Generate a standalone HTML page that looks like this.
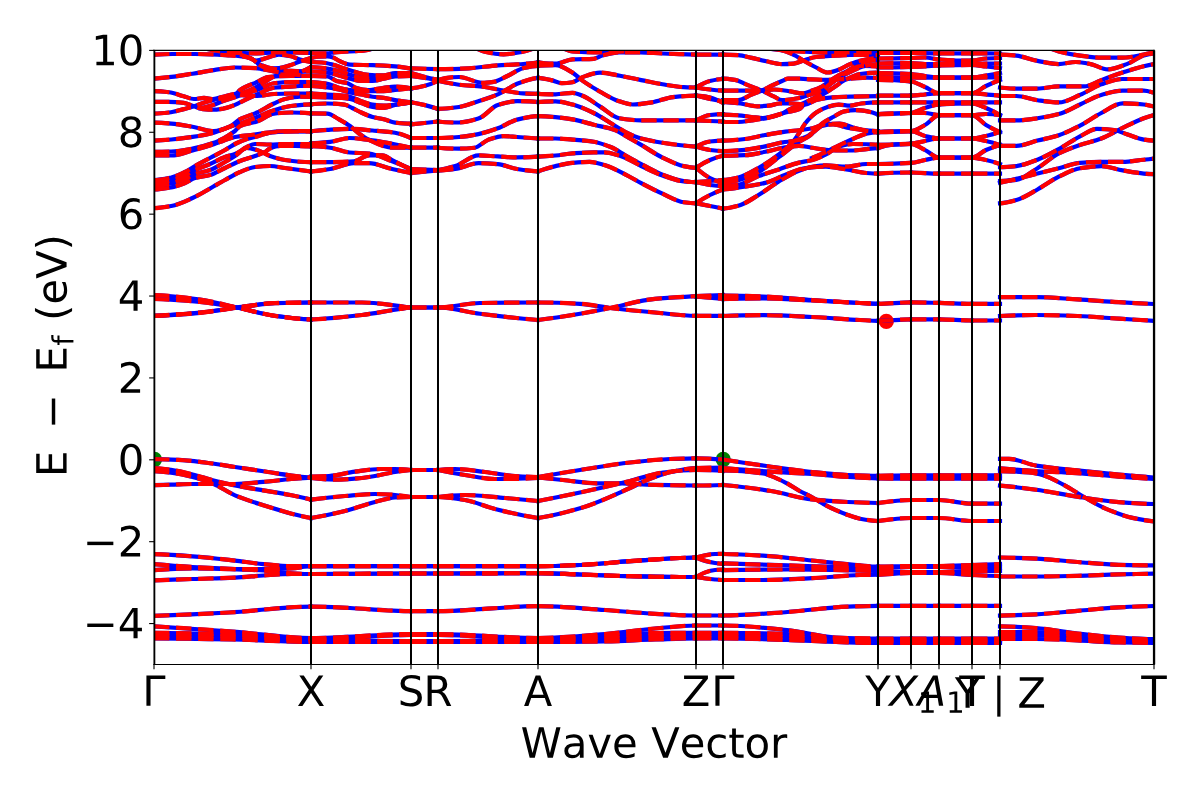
<!DOCTYPE html><html><head><meta charset="utf-8"><title>Band structure</title><style>html,body{margin:0;padding:0;background:#fff;width:1200px;height:800px;overflow:hidden;font-family:"Liberation Sans",sans-serif}</style></head><body><svg width="1200" height="800" viewBox="0 0 864 576" style="display:block">
<defs>
</defs>
<g id="figure_1">
<g id="patch_1">
<path d="M 0 576 
L 864 576 
L 864 0 
L 0 0 
z
" style="fill: #ffffff"/>
</g>
<g id="axes_1">
<g id="patch_2">
<path d="M 110.88 478.44 
L 830.88 478.44 
L 830.88 36.288 
L 110.88 36.288 
z
" style="fill: #ffffff"/>
</g>
<g id="matplotlib.axis_1">
<g id="xtick_1">
<g id="line2d_1">
<defs>
<path id="m612055d53e" d="M 0 0 
L 0 3.5 
" style="stroke: #000000; stroke-width: 0.8"/>
</defs>
<g>
<use href="#m612055d53e" x="110.88" y="478.44" style="stroke: #000000; stroke-width: 0.8"/>
</g>
</g>
<g id="text_1">
<!-- $\Gamma$ -->
<g transform="translate(102.48 508.235312) scale(0.3 -0.3)">
<defs>
<path id="DejaVuSans-393" d="M 628 0 
L 628 4666 
L 3531 4666 
L 3531 4134 
L 1259 4134 
L 1259 0 
L 628 0 
z
" transform="scale(0.015625)"/>
</defs>
<use href="#DejaVuSans-393" transform="translate(0 0.09375)"/>
</g>
</g>
</g>
<g id="xtick_2">
<g id="line2d_2">
<g>
<use href="#m612055d53e" x="223.92" y="478.44" style="stroke: #000000; stroke-width: 0.8"/>
</g>
</g>
<g id="text_2">
<!-- X -->
<g transform="translate(213.645 508.235312) scale(0.3 -0.3)">
<defs>
<path id="DejaVuSans-58" d="M 403 4666 
L 1081 4666 
L 2241 2931 
L 3406 4666 
L 4084 4666 
L 2584 2425 
L 4184 0 
L 3506 0 
L 2194 1984 
L 872 0 
L 191 0 
L 1856 2491 
L 403 4666 
z
" transform="scale(0.015625)"/>
</defs>
<use href="#DejaVuSans-58"/>
</g>
</g>
</g>
<g id="xtick_3">
<g id="line2d_3">
<g>
<use href="#m612055d53e" x="295.92" y="478.44" style="stroke: #000000; stroke-width: 0.8"/>
</g>
</g>
<g id="text_3">
<!-- S -->
<g transform="translate(286.397344 508.235312) scale(0.3 -0.3)">
<defs>
<path id="DejaVuSans-53" d="M 3425 4513 
L 3425 3897 
Q 3066 4069 2747 4153 
Q 2428 4238 2131 4238 
Q 1616 4238 1336 4038 
Q 1056 3838 1056 3469 
Q 1056 3159 1242 3001 
Q 1428 2844 1947 2747 
L 2328 2669 
Q 3034 2534 3370 2195 
Q 3706 1856 3706 1288 
Q 3706 609 3251 259 
Q 2797 -91 1919 -91 
Q 1588 -91 1214 -16 
Q 841 59 441 206 
L 441 856 
Q 825 641 1194 531 
Q 1563 422 1919 422 
Q 2459 422 2753 634 
Q 3047 847 3047 1241 
Q 3047 1584 2836 1778 
Q 2625 1972 2144 2069 
L 1759 2144 
Q 1053 2284 737 2584 
Q 422 2884 422 3419 
Q 422 4038 858 4394 
Q 1294 4750 2059 4750 
Q 2388 4750 2728 4690 
Q 3069 4631 3425 4513 
z
" transform="scale(0.015625)"/>
</defs>
<use href="#DejaVuSans-53"/>
</g>
</g>
</g>
<g id="xtick_4">
<g id="line2d_4">
<g>
<use href="#m612055d53e" x="315.36" y="478.44" style="stroke: #000000; stroke-width: 0.8"/>
</g>
</g>
<g id="text_4">
<!-- R -->
<g transform="translate(304.937344 508.235312) scale(0.3 -0.3)">
<defs>
<path id="DejaVuSans-52" d="M 2841 2188 
Q 3044 2119 3236 1894 
Q 3428 1669 3622 1275 
L 4263 0 
L 3584 0 
L 2988 1197 
Q 2756 1666 2539 1819 
Q 2322 1972 1947 1972 
L 1259 1972 
L 1259 0 
L 628 0 
L 628 4666 
L 2053 4666 
Q 2853 4666 3247 4331 
Q 3641 3997 3641 3322 
Q 3641 2881 3436 2590 
Q 3231 2300 2841 2188 
z
M 1259 4147 
L 1259 2491 
L 2053 2491 
Q 2509 2491 2742 2702 
Q 2975 2913 2975 3322 
Q 2975 3731 2742 3939 
Q 2509 4147 2053 4147 
L 1259 4147 
z
" transform="scale(0.015625)"/>
</defs>
<use href="#DejaVuSans-52"/>
</g>
</g>
</g>
<g id="xtick_5">
<g id="line2d_5">
<g>
<use href="#m612055d53e" x="387.36" y="478.44" style="stroke: #000000; stroke-width: 0.8"/>
</g>
</g>
<g id="text_5">
<!-- A -->
<g transform="translate(377.099063 508.235312) scale(0.3 -0.3)">
<defs>
<path id="DejaVuSans-41" d="M 2188 4044 
L 1331 1722 
L 3047 1722 
L 2188 4044 
z
M 1831 4666 
L 2547 4666 
L 4325 0 
L 3669 0 
L 3244 1197 
L 1141 1197 
L 716 0 
L 50 0 
L 1831 4666 
z
" transform="scale(0.015625)"/>
</defs>
<use href="#DejaVuSans-41"/>
</g>
</g>
</g>
<g id="xtick_6">
<g id="line2d_6">
<g>
<use href="#m612055d53e" x="501.12" y="478.44" style="stroke: #000000; stroke-width: 0.8"/>
</g>
</g>
<g id="text_6">
<!-- Z -->
<g transform="translate(490.845 508.235312) scale(0.3 -0.3)">
<defs>
<path id="DejaVuSans-5a" d="M 359 4666 
L 4025 4666 
L 4025 4184 
L 1075 531 
L 4097 531 
L 4097 0 
L 288 0 
L 288 481 
L 3238 4134 
L 359 4134 
L 359 4666 
z
" transform="scale(0.015625)"/>
</defs>
<use href="#DejaVuSans-5a"/>
</g>
</g>
</g>
<g id="xtick_7">
<g id="line2d_7">
<g>
<use href="#m612055d53e" x="520.56" y="478.44" style="stroke: #000000; stroke-width: 0.8"/>
</g>
</g>
<g id="text_7">
<!-- $\Gamma$ -->
<g transform="translate(512.16 508.235312) scale(0.3 -0.3)">
<use href="#DejaVuSans-393" transform="translate(0 0.09375)"/>
</g>
</g>
</g>
<g id="xtick_8">
<g id="line2d_8">
<g>
<use href="#m612055d53e" x="632.16" y="478.44" style="stroke: #000000; stroke-width: 0.8"/>
</g>
</g>
<g id="text_8">
<!-- Y -->
<g transform="translate(622.998281 508.235312) scale(0.3 -0.3)">
<defs>
<path id="DejaVuSans-59" d="M -13 4666 
L 666 4666 
L 1959 2747 
L 3244 4666 
L 3922 4666 
L 2272 2222 
L 2272 0 
L 1638 0 
L 1638 2222 
L -13 4666 
z
" transform="scale(0.015625)"/>
</defs>
<use href="#DejaVuSans-59"/>
</g>
</g>
</g>
<g id="xtick_9">
<g id="line2d_9">
<g>
<use href="#m612055d53e" x="655.92" y="478.44" style="stroke: #000000; stroke-width: 0.8"/>
</g>
</g>
<g id="text_9" transform="translate(1.8 0)">
<!-- $X_1$ -->
<g transform="translate(638.52 508.235312) scale(0.3 -0.3)">
<defs>
<path id="DejaVuSans-Oblique-58" d="M 878 4666 
L 1516 4666 
L 2316 2981 
L 3763 4666 
L 4500 4666 
L 2578 2438 
L 3738 0 
L 3103 0 
L 2163 1966 
L 459 0 
L -275 0 
L 1906 2509 
L 878 4666 
z
" transform="scale(0.015625)"/>
<path id="DejaVuSans-31" d="M 794 531 
L 1825 531 
L 1825 4091 
L 703 3866 
L 703 4441 
L 1819 4666 
L 2450 4666 
L 2450 531 
L 3481 531 
L 3481 0 
L 794 0 
L 794 531 
z
" transform="scale(0.015625)"/>
</defs>
<use href="#DejaVuSans-Oblique-58" transform="translate(0 0.09375)"/>
<use href="#DejaVuSans-31" transform="translate(68.505859 -16.3125) scale(0.7)"/>
</g>
</g>
</g>
<g id="xtick_10">
<g id="line2d_10">
<g>
<use href="#m612055d53e" x="676.08" y="478.44" style="stroke: #000000; stroke-width: 0.8"/>
</g>
</g>
<g id="text_10" transform="translate(2.0 0)">
<!-- $A_1$ -->
<g transform="translate(658.68 508.235312) scale(0.3 -0.3)">
<defs>
<path id="DejaVuSans-Oblique-41" d="M 2356 4666 
L 3072 4666 
L 3938 0 
L 3278 0 
L 3084 1197 
L 984 1197 
L 325 0 
L -341 0 
L 2356 4666 
z
M 2584 4044 
L 1275 1722 
L 2988 1722 
L 2584 4044 
z
" transform="scale(0.015625)"/>
</defs>
<use href="#DejaVuSans-Oblique-41" transform="translate(0 0.09375)"/>
<use href="#DejaVuSans-31" transform="translate(68.408203 -16.3125) scale(0.7)"/>
</g>
</g>
</g>
<g id="xtick_11">
<g id="line2d_11">
<g>
<use href="#m612055d53e" x="699.84" y="478.44" style="stroke: #000000; stroke-width: 0.8"/>
</g>
</g>
<g id="text_11">
<!-- T -->
<g transform="translate(690.678281 508.235312) scale(0.3 -0.3)">
<defs>
<path id="DejaVuSans-54" d="M -19 4666 
L 3928 4666 
L 3928 4134 
L 2272 4134 
L 2272 0 
L 1638 0 
L 1638 4134 
L -19 4134 
L -19 4666 
z
" transform="scale(0.015625)"/>
</defs>
<use href="#DejaVuSans-54"/>
</g>
</g>
</g>
<g id="xtick_12">
<g id="line2d_12">
<g>
<use href="#m612055d53e" x="720" y="478.44" style="stroke: #000000; stroke-width: 0.8"/>
</g>
</g>
<g id="text_12" transform="translate(0.36 1.0)">
<!-- Y$\mid$Z -->
<g transform="translate(687.15 508.84) scale(0.3 -0.3)">
<defs>
<path id="DejaVuSans-2223" d="M 1350 4934 
L 1850 4934 
L 1850 -1369 
L 1350 -1369 
L 1350 4934 
z
" transform="scale(0.015625)"/>
</defs>
<use href="#DejaVuSans-59" transform="translate(0 0.90625)"/>
<use href="#DejaVuSans-2223" transform="translate(80.566406 0.90625)"/>
<use href="#DejaVuSans-5a" transform="translate(150.048828 0.90625)"/>
</g>
</g>
</g>
<g id="xtick_13">
<g id="line2d_13">
<g>
<use href="#m612055d53e" x="830.88" y="478.44" style="stroke: #000000; stroke-width: 0.8"/>
</g>
</g>
<g id="text_13">
<!-- T -->
<g transform="translate(821.718281 508.235312) scale(0.3 -0.3)">
<use href="#DejaVuSans-54"/>
</g>
</g>
</g>
<g id="text_14" transform="translate(0 3.3)">
<!-- $\mathrm{Wave\ Vector}$ -->
<g transform="translate(374.88 542.235312) scale(0.3 -0.3)">
<defs>
<path id="DejaVuSans-57" d="M 213 4666 
L 850 4666 
L 1831 722 
L 2809 4666 
L 3519 4666 
L 4500 722 
L 5478 4666 
L 6119 4666 
L 4947 0 
L 4153 0 
L 3169 4050 
L 2175 0 
L 1381 0 
L 213 4666 
z
" transform="scale(0.015625)"/>
<path id="DejaVuSans-61" d="M 2194 1759 
Q 1497 1759 1228 1600 
Q 959 1441 959 1056 
Q 959 750 1161 570 
Q 1363 391 1709 391 
Q 2188 391 2477 730 
Q 2766 1069 2766 1631 
L 2766 1759 
L 2194 1759 
z
M 3341 1997 
L 3341 0 
L 2766 0 
L 2766 531 
Q 2569 213 2275 61 
Q 1981 -91 1556 -91 
Q 1019 -91 701 211 
Q 384 513 384 1019 
Q 384 1609 779 1909 
Q 1175 2209 1959 2209 
L 2766 2209 
L 2766 2266 
Q 2766 2663 2505 2880 
Q 2244 3097 1772 3097 
Q 1472 3097 1187 3025 
Q 903 2953 641 2809 
L 641 3341 
Q 956 3463 1253 3523 
Q 1550 3584 1831 3584 
Q 2591 3584 2966 3190 
Q 3341 2797 3341 1997 
z
" transform="scale(0.015625)"/>
<path id="DejaVuSans-76" d="M 191 3500 
L 800 3500 
L 1894 563 
L 2988 3500 
L 3597 3500 
L 2284 0 
L 1503 0 
L 191 3500 
z
" transform="scale(0.015625)"/>
<path id="DejaVuSans-65" d="M 3597 1894 
L 3597 1613 
L 953 1613 
Q 991 1019 1311 708 
Q 1631 397 2203 397 
Q 2534 397 2845 478 
Q 3156 559 3463 722 
L 3463 178 
Q 3153 47 2828 -22 
Q 2503 -91 2169 -91 
Q 1331 -91 842 396 
Q 353 884 353 1716 
Q 353 2575 817 3079 
Q 1281 3584 2069 3584 
Q 2775 3584 3186 3129 
Q 3597 2675 3597 1894 
z
M 3022 2063 
Q 3016 2534 2758 2815 
Q 2500 3097 2075 3097 
Q 1594 3097 1305 2825 
Q 1016 2553 972 2059 
L 3022 2063 
z
" transform="scale(0.015625)"/>
<path id="DejaVuSans-56" d="M 1831 0 
L 50 4666 
L 709 4666 
L 2188 738 
L 3669 4666 
L 4325 4666 
L 2547 0 
L 1831 0 
z
" transform="scale(0.015625)"/>
<path id="DejaVuSans-63" d="M 3122 3366 
L 3122 2828 
Q 2878 2963 2633 3030 
Q 2388 3097 2138 3097 
Q 1578 3097 1268 2742 
Q 959 2388 959 1747 
Q 959 1106 1268 751 
Q 1578 397 2138 397 
Q 2388 397 2633 464 
Q 2878 531 3122 666 
L 3122 134 
Q 2881 22 2623 -34 
Q 2366 -91 2075 -91 
Q 1284 -91 818 406 
Q 353 903 353 1747 
Q 353 2603 823 3093 
Q 1294 3584 2113 3584 
Q 2378 3584 2631 3529 
Q 2884 3475 3122 3366 
z
" transform="scale(0.015625)"/>
<path id="DejaVuSans-74" d="M 1172 4494 
L 1172 3500 
L 2356 3500 
L 2356 3053 
L 1172 3053 
L 1172 1153 
Q 1172 725 1289 603 
Q 1406 481 1766 481 
L 2356 481 
L 2356 0 
L 1766 0 
Q 1100 0 847 248 
Q 594 497 594 1153 
L 594 3053 
L 172 3053 
L 172 3500 
L 594 3500 
L 594 4494 
L 1172 4494 
z
" transform="scale(0.015625)"/>
<path id="DejaVuSans-6f" d="M 1959 3097 
Q 1497 3097 1228 2736 
Q 959 2375 959 1747 
Q 959 1119 1226 758 
Q 1494 397 1959 397 
Q 2419 397 2687 759 
Q 2956 1122 2956 1747 
Q 2956 2369 2687 2733 
Q 2419 3097 1959 3097 
z
M 1959 3584 
Q 2709 3584 3137 3096 
Q 3566 2609 3566 1747 
Q 3566 888 3137 398 
Q 2709 -91 1959 -91 
Q 1206 -91 779 398 
Q 353 888 353 1747 
Q 353 2609 779 3096 
Q 1206 3584 1959 3584 
z
" transform="scale(0.015625)"/>
<path id="DejaVuSans-72" d="M 2631 2963 
Q 2534 3019 2420 3045 
Q 2306 3072 2169 3072 
Q 1681 3072 1420 2755 
Q 1159 2438 1159 1844 
L 1159 0 
L 581 0 
L 581 3500 
L 1159 3500 
L 1159 2956 
Q 1341 3275 1631 3429 
Q 1922 3584 2338 3584 
Q 2397 3584 2469 3576 
Q 2541 3569 2628 3553 
L 2631 2963 
z
" transform="scale(0.015625)"/>
</defs>
<use href="#DejaVuSans-57" transform="translate(0 0.09375)"/>
<use href="#DejaVuSans-61" transform="translate(98.876953 0.09375)"/>
<use href="#DejaVuSans-76" transform="translate(160.15625 0.09375)"/>
<use href="#DejaVuSans-65" transform="translate(219.335938 0.09375)"/>
<use href="#DejaVuSans-56" transform="translate(313.329753 0.09375)"/>
<use href="#DejaVuSans-65" transform="translate(381.737957 0.09375)"/>
<use href="#DejaVuSans-63" transform="translate(443.261394 0.09375)"/>
<use href="#DejaVuSans-74" transform="translate(498.241863 0.09375)"/>
<use href="#DejaVuSans-6f" transform="translate(537.450847 0.09375)"/>
<use href="#DejaVuSans-72" transform="translate(598.632488 0.09375)"/>
</g>
</g>
</g>
<g id="matplotlib.axis_2">
<g id="ytick_1">
<g id="line2d_14">
<defs>
<path id="m268ad5225a" d="M 0 0 
L -3.5 0 
" style="stroke: #000000; stroke-width: 0.8"/>
</defs>
<g>
<use href="#m268ad5225a" x="110.88" y="448.9632" style="stroke: #000000; stroke-width: 0.8"/>
</g>
</g>
<g id="text_15" transform="translate(0 -0.75)">
<!-- −4 -->
<g transform="translate(59.653437 460.360856) scale(0.3 -0.3)">
<defs>
<path id="DejaVuSans-2212" d="M 678 2272 
L 4684 2272 
L 4684 1741 
L 678 1741 
L 678 2272 
z
" transform="scale(0.015625)"/>
<path id="DejaVuSans-34" d="M 2419 4116 
L 825 1625 
L 2419 1625 
L 2419 4116 
z
M 2253 4666 
L 3047 4666 
L 3047 1625 
L 3713 1625 
L 3713 1100 
L 3047 1100 
L 3047 0 
L 2419 0 
L 2419 1100 
L 313 1100 
L 313 1709 
L 2253 4666 
z
" transform="scale(0.015625)"/>
</defs>
<use href="#DejaVuSans-2212"/>
<use href="#DejaVuSans-34" transform="translate(83.789062 0)"/>
</g>
</g>
</g>
<g id="ytick_2">
<g id="line2d_15">
<g>
<use href="#m268ad5225a" x="110.88" y="390.0096" style="stroke: #000000; stroke-width: 0.8"/>
</g>
</g>
<g id="text_16" transform="translate(0 -0.75)">
<!-- −2 -->
<g transform="translate(59.653437 401.407256) scale(0.3 -0.3)">
<defs>
<path id="DejaVuSans-32" d="M 1228 531 
L 3431 531 
L 3431 0 
L 469 0 
L 469 531 
Q 828 903 1448 1529 
Q 2069 2156 2228 2338 
Q 2531 2678 2651 2914 
Q 2772 3150 2772 3378 
Q 2772 3750 2511 3984 
Q 2250 4219 1831 4219 
Q 1534 4219 1204 4116 
Q 875 4013 500 3803 
L 500 4441 
Q 881 4594 1212 4672 
Q 1544 4750 1819 4750 
Q 2544 4750 2975 4387 
Q 3406 4025 3406 3419 
Q 3406 3131 3298 2873 
Q 3191 2616 2906 2266 
Q 2828 2175 2409 1742 
Q 1991 1309 1228 531 
z
" transform="scale(0.015625)"/>
</defs>
<use href="#DejaVuSans-2212"/>
<use href="#DejaVuSans-32" transform="translate(83.789062 0)"/>
</g>
</g>
</g>
<g id="ytick_3">
<g id="line2d_16">
<g>
<use href="#m268ad5225a" x="110.88" y="331.056" style="stroke: #000000; stroke-width: 0.8"/>
</g>
</g>
<g id="text_17" transform="translate(0 -0.75)">
<!-- 0 -->
<g transform="translate(84.7925 342.453656) scale(0.3 -0.3)">
<defs>
<path id="DejaVuSans-30" d="M 2034 4250 
Q 1547 4250 1301 3770 
Q 1056 3291 1056 2328 
Q 1056 1369 1301 889 
Q 1547 409 2034 409 
Q 2525 409 2770 889 
Q 3016 1369 3016 2328 
Q 3016 3291 2770 3770 
Q 2525 4250 2034 4250 
z
M 2034 4750 
Q 2819 4750 3233 4129 
Q 3647 3509 3647 2328 
Q 3647 1150 3233 529 
Q 2819 -91 2034 -91 
Q 1250 -91 836 529 
Q 422 1150 422 2328 
Q 422 3509 836 4129 
Q 1250 4750 2034 4750 
z
" transform="scale(0.015625)"/>
</defs>
<use href="#DejaVuSans-30"/>
</g>
</g>
</g>
<g id="ytick_4">
<g id="line2d_17">
<g>
<use href="#m268ad5225a" x="110.88" y="272.1024" style="stroke: #000000; stroke-width: 0.8"/>
</g>
</g>
<g id="text_18" transform="translate(0 -0.75)">
<!-- 2 -->
<g transform="translate(84.7925 283.500056) scale(0.3 -0.3)">
<use href="#DejaVuSans-32"/>
</g>
</g>
</g>
<g id="ytick_5">
<g id="line2d_18">
<g>
<use href="#m268ad5225a" x="110.88" y="213.1488" style="stroke: #000000; stroke-width: 0.8"/>
</g>
</g>
<g id="text_19" transform="translate(0 -0.75)">
<!-- 4 -->
<g transform="translate(84.7925 224.546456) scale(0.3 -0.3)">
<use href="#DejaVuSans-34"/>
</g>
</g>
</g>
<g id="ytick_6">
<g id="line2d_19">
<g>
<use href="#m268ad5225a" x="110.88" y="154.1952" style="stroke: #000000; stroke-width: 0.8"/>
</g>
</g>
<g id="text_20" transform="translate(0 -0.75)">
<!-- 6 -->
<g transform="translate(84.7925 165.592856) scale(0.3 -0.3)">
<defs>
<path id="DejaVuSans-36" d="M 2113 2584 
Q 1688 2584 1439 2293 
Q 1191 2003 1191 1497 
Q 1191 994 1439 701 
Q 1688 409 2113 409 
Q 2538 409 2786 701 
Q 3034 994 3034 1497 
Q 3034 2003 2786 2293 
Q 2538 2584 2113 2584 
z
M 3366 4563 
L 3366 3988 
Q 3128 4100 2886 4159 
Q 2644 4219 2406 4219 
Q 1781 4219 1451 3797 
Q 1122 3375 1075 2522 
Q 1259 2794 1537 2939 
Q 1816 3084 2150 3084 
Q 2853 3084 3261 2657 
Q 3669 2231 3669 1497 
Q 3669 778 3244 343 
Q 2819 -91 2113 -91 
Q 1303 -91 875 529 
Q 447 1150 447 2328 
Q 447 3434 972 4092 
Q 1497 4750 2381 4750 
Q 2619 4750 2861 4703 
Q 3103 4656 3366 4563 
z
" transform="scale(0.015625)"/>
</defs>
<use href="#DejaVuSans-36"/>
</g>
</g>
</g>
<g id="ytick_7">
<g id="line2d_20">
<g>
<use href="#m268ad5225a" x="110.88" y="95.2416" style="stroke: #000000; stroke-width: 0.8"/>
</g>
</g>
<g id="text_21" transform="translate(0 -0.75)">
<!-- 8 -->
<g transform="translate(84.7925 106.639256) scale(0.3 -0.3)">
<defs>
<path id="DejaVuSans-38" d="M 2034 2216 
Q 1584 2216 1326 1975 
Q 1069 1734 1069 1313 
Q 1069 891 1326 650 
Q 1584 409 2034 409 
Q 2484 409 2743 651 
Q 3003 894 3003 1313 
Q 3003 1734 2745 1975 
Q 2488 2216 2034 2216 
z
M 1403 2484 
Q 997 2584 770 2862 
Q 544 3141 544 3541 
Q 544 4100 942 4425 
Q 1341 4750 2034 4750 
Q 2731 4750 3128 4425 
Q 3525 4100 3525 3541 
Q 3525 3141 3298 2862 
Q 3072 2584 2669 2484 
Q 3125 2378 3379 2068 
Q 3634 1759 3634 1313 
Q 3634 634 3220 271 
Q 2806 -91 2034 -91 
Q 1263 -91 848 271 
Q 434 634 434 1313 
Q 434 1759 690 2068 
Q 947 2378 1403 2484 
z
M 1172 3481 
Q 1172 3119 1398 2916 
Q 1625 2713 2034 2713 
Q 2441 2713 2670 2916 
Q 2900 3119 2900 3481 
Q 2900 3844 2670 4047 
Q 2441 4250 2034 4250 
Q 1625 4250 1398 4047 
Q 1172 3844 1172 3481 
z
" transform="scale(0.015625)"/>
</defs>
<use href="#DejaVuSans-38"/>
</g>
</g>
</g>
<g id="ytick_8">
<g id="line2d_21">
<g>
<use href="#m268ad5225a" x="110.88" y="36.288" style="stroke: #000000; stroke-width: 0.8"/>
</g>
</g>
<g id="text_22" transform="translate(0 -0.75)">
<!-- 10 -->
<g transform="translate(65.705 47.685656) scale(0.3 -0.3)">
<use href="#DejaVuSans-31"/>
<use href="#DejaVuSans-30" transform="translate(63.623047 0)"/>
</g>
</g>
</g>
<g id="text_23" transform="translate(-1.44 -1.37)">
<!-- $\mathrm{E\ -\ E_f}\ (\mathrm{eV})$ -->
<g transform="translate(49.414375 344.814) rotate(-90) scale(0.3 -0.3)">
<defs>
<path id="DejaVuSans-45" d="M 628 4666 
L 3578 4666 
L 3578 4134 
L 1259 4134 
L 1259 2753 
L 3481 2753 
L 3481 2222 
L 1259 2222 
L 1259 531 
L 3634 531 
L 3634 0 
L 628 0 
L 628 4666 
z
" transform="scale(0.015625)"/>
<path id="DejaVuSans-66" d="M 2375 4863 
L 2375 4384 
L 1825 4384 
Q 1516 4384 1395 4259 
Q 1275 4134 1275 3809 
L 1275 3500 
L 2222 3500 
L 2222 3053 
L 1275 3053 
L 1275 0 
L 697 0 
L 697 3053 
L 147 3053 
L 147 3500 
L 697 3500 
L 697 3744 
Q 697 4328 969 4595 
Q 1241 4863 1831 4863 
L 2375 4863 
z
" transform="scale(0.015625)"/>
<path id="DejaVuSans-28" d="M 1984 4856 
Q 1566 4138 1362 3434 
Q 1159 2731 1159 2009 
Q 1159 1288 1364 580 
Q 1569 -128 1984 -844 
L 1484 -844 
Q 1016 -109 783 600 
Q 550 1309 550 2009 
Q 550 2706 781 3412 
Q 1013 4119 1484 4856 
L 1984 4856 
z
" transform="scale(0.015625)"/>
<path id="DejaVuSans-29" d="M 513 4856 
L 1013 4856 
Q 1481 4119 1714 3412 
Q 1947 2706 1947 2009 
Q 1947 1309 1714 600 
Q 1481 -109 1013 -844 
L 513 -844 
Q 928 -128 1133 580 
Q 1338 1288 1338 2009 
Q 1338 2731 1133 3434 
Q 928 4138 513 4856 
z
" transform="scale(0.015625)"/>
</defs>
<use href="#DejaVuSans-45" transform="translate(0 0.125)"/>
<use href="#DejaVuSans-2212" transform="translate(115.136394 0.125)"/>
<use href="#DejaVuSans-45" transform="translate(250.878257 0.125)"/>
<use href="#DejaVuSans-66" transform="translate(315.018882 -16.28125) scale(0.7)"/>
<use href="#DejaVuSans-28" transform="translate(374.86719 0.125)"/>
<use href="#DejaVuSans-65" transform="translate(413.880862 0.125)"/>
<use href="#DejaVuSans-56" transform="translate(475.404299 0.125)"/>
<use href="#DejaVuSans-29" transform="translate(543.812502 0.125)"/>
</g>
</g>
</g>
<g transform="scale(0.72)">
<defs><clipPath id="ax"><rect x="154.0" y="50.4" width="1000.0" height="614.1"/></clipPath><path id="b0" d="M154 295C169.3 295.5 184.7 297.4 200 299.5C212.3 301.2 224.7 304.8 237 307.5C249.7 310.3 262.3 314 275 315.8C287 317.5 299 318.9 311 319.5"/><path id="b1" d="M154 299C169.3 299.3 184.7 300.6 200 302C212.3 303.1 224.7 305.3 237 307.5C249.7 309.8 262.3 314.3 275 316C287 317.6 299 319.1 311 319.5"/><path id="b2" d="M154 315.5C169.3 315.1 184.7 313.9 200 312.5C212.3 311.4 224.7 309.1 237 307.5C249.7 305.9 262.3 303.3 275 303C287 302.7 299 302.5 311 302.5"/><path id="b3" d="M154 316C169.3 315.5 184.7 314.2 200 312.8C212.3 311.7 224.7 309.4 237 307.8C249.7 306.2 262.3 303.6 275 303.2C287 302.8 299 302.5 311 302.5"/><path id="b4" d="M311 302.5L362 302.5C374.7 302.5 387.3 304.6 400 306C403.7 306.4 407.3 307.5 411 307.5"/><path id="b5" d="M411 307.5L438 307.5"/><path id="b6" d="M438 307.5C452 307.5 466 303.2 480 303C499.3 302.7 518.7 302.5 538 302.5"/><path id="b7" d="M311 319.5C328 318.7 345 317 362 315C374.7 313.5 387.3 310.8 400 309C403.7 308.5 407.3 307.5 411 307.5"/><path id="b8" d="M411 307.5L438 307.5"/><path id="b9" d="M438 307.5C452 307.5 466 312 480 313.8C499.3 316.2 518.7 318.4 538 320"/><path id="b10" d="M538 302.5C552 302.5 566 303 580 303.8C590 304.3 600 306.8 610 308C625 309.8 640 311.2 655 312.5C668.7 313.7 682.3 315.7 696 315.8"/><path id="b11" d="M696 315.8C705 315.8 714 315.8 723 315.8"/><path id="b12" d="M538 320C552 318.3 566 316.1 580 313.8C590 312.1 600 310 610 308C625 305 640 300.1 655 298.8C668.7 297.5 682.3 297 696 296.2"/><path id="b13" d="M696 296.2C705 295.8 714 295.4 723 295"/><path id="b14" d="M696 296.5C705 297.3 714 298.2 723 299"/><path id="b15" d="M723 295.5C736.3 295.6 749.7 296 763 296.5C779.3 297.1 795.7 298.9 812 300C828 301.1 844 302.2 860 303C866 303.3 872 303.8 878 303.8"/><path id="b16" d="M878 303.8C889 303.8 900 302.4 911 302.4"/><path id="b17" d="M911 302.4C920.3 302.4 929.7 302.7 939 302.9"/><path id="b18" d="M939 302.9C950 303.1 961 303.8 972 303.8"/><path id="b19" d="M972 303.8L1000 303.8"/><path id="b20" d="M723 299C736.3 298.5 749.7 298.5 763 298.5C779.3 298.5 795.7 299.8 812 300.5C828 301.2 844 302.2 860 303C866 303.3 872 303.5 878 303.8"/><path id="b21" d="M723 316C736.3 315.4 749.7 315.2 763 315.2C779.3 315.2 795.7 316.2 812 317C828 317.7 844 319.2 860 320C866 320.3 872 320.8 878 320.8"/><path id="b22" d="M878 320.8C889 320.8 900 319.3 911 319.3"/><path id="b23" d="M911 319.3L939 319.3"/><path id="b24" d="M939 319.3C950 319.3 961 320.5 972 320.5"/><path id="b25" d="M972 320.5L1000 320.5"/><path id="b26" d="M1000 297.1L1036 297.1C1049.8 297.1 1063.7 298.6 1077.5 299.4C1091.3 300.2 1105 301.4 1118.8 302.2C1130.5 302.9 1142.3 303.5 1154 304"/><path id="b27" d="M1000 316C1012 315.4 1024 315 1036 315C1049.8 315 1063.7 315.5 1077.5 316C1091.3 316.5 1105 317.8 1118.8 318.7C1130.5 319.4 1142.3 320.1 1154 320.8"/><path id="b28" d="M154 459.2C162.1 459.2 170.2 459.5 178.3 459.9C187.8 460.3 197.2 461.6 206.7 462.7C216.1 463.8 225.6 465.6 235 467C244.4 468.4 253.9 469.8 263.3 471.2C272.7 472.6 282.2 474.3 291.6 475.5C298.1 476.3 304.5 477 311 477.6"/><path id="b29" d="M154 485.1C159.7 485 165.3 484.9 171 484.7C178.2 484.5 185.3 484 192.5 484L213.7 484L235 484C244.3 484 253.7 482.7 263 481.9C272.5 481.1 282.1 479.8 291.6 479C298.1 478.5 304.5 478 311 477.6"/><path id="b30" d="M154 468C159.7 468.3 165.3 469 171 469.8C178.2 470.8 185.3 472.6 192.5 474.4C199.6 476.1 206.6 478.7 213.7 480.5C220.8 482.3 227.9 484 235 485.4C244.4 487.3 253.9 488.8 263.3 490.4C272.7 492 282.2 493.5 291.6 495.3C298.1 496.6 304.5 498 311 499.6"/><path id="b31" d="M154 471.2C159.7 471.4 165.3 472 171 472.7C178.2 473.6 185.3 475.1 192.5 476.9C199.6 478.6 206.6 481.1 213.7 484C220.8 486.9 227.9 492.3 235 495.3C244.4 499.3 253.9 502.2 263.3 505.2C272.7 508.2 282.2 511.3 291.6 513.7C298.1 515.3 304.5 516.8 311 518"/><path id="b32" d="M311 476.5C317 476.5 323 476.3 329 476C337.7 475.6 346.3 472.7 355 471.6C363.7 470.5 372.3 469 381 469L395 469C400.3 469 405.7 469.5 411 470"/><path id="b33" d="M311 478C319 479 327 479.6 335 479.6C341.7 479.6 348.3 479.1 355 478.6C361.7 478.1 368.3 477.1 375 476C381.7 474.9 388.3 473 395 472C400.3 471.2 405.7 470.5 411 470"/><path id="b34" d="M311 499.6C322.3 498.2 333.7 496.9 345 496C355 495.2 365 494 375 494C387 494 399 495 411 497"/><path id="b35" d="M311 518C322.3 516.2 333.7 513.8 345 511C355 508.5 365 504.5 375 502C381.7 500.3 388.3 497.9 395 497.5C400.3 497.2 405.7 497 411 497"/><path id="b36" d="M411 470L438 470"/><path id="b37" d="M411 497L438 497"/><path id="b38" d="M438 470C443.7 469.3 449.3 469 455 469C465 469 475 470.9 485 472C495 473.1 505 475.4 515 476C522.7 476.5 530.3 477 538 477"/><path id="b39" d="M438 470C447 471.9 456 473.6 465 475C475 476.6 485 479 495 479C509.3 479 523.7 479 538 478"/><path id="b40" d="M438 497C447 495.8 456 495 465 495C478.3 495 491.7 496.9 505 498C516 498.9 527 499.9 538 501"/><path id="b41" d="M438 497C447 497.2 456 498.6 465 500C475 501.6 485 506.5 495 509C509.3 512.6 523.7 515.8 538 518"/><path id="b42" d="M538 477C552 474.6 566 472.2 580 470C596.7 467.4 613.3 464.3 630 462.5C643.3 461 656.7 459.5 670 459C678.7 458.7 687.3 458.3 696 458.3"/><path id="b43" d="M696 458.3C705 458.3 714 458.8 723 459.5"/><path id="b44" d="M538 477.5C546.3 478.3 554.7 479.2 563 480C574.3 481.1 585.7 483.3 597 483.3L622 483.3C630.3 483.3 638.7 484.5 647 484.7C663.3 485.1 679.7 485.5 696 485.5"/><path id="b45" d="M696 485.5C705 485.5 714 485.3 723 485"/><path id="b46" d="M538 501C552 498.3 566 495.5 580 492.5C596.7 488.9 613.3 485.1 630 481C641 478.3 652 473.8 663 472.5C674 471.2 685 470 696 470"/><path id="b47" d="M696 470C705 470 714 470.2 723 471"/><path id="b48" d="M538 518C552 515.9 566 512.4 580 508.3C596.7 503.4 613.3 495.4 630 488C635.7 485.5 641.3 482.2 647 480C655.3 476.7 663.7 473.5 672 471.7C680 470 688 468.3 696 468"/><path id="b49" d="M696 468C705 467.7 714 467.5 723 467.5"/><path id="b50" d="M723 459.5C739 462.1 755 464.5 771 466.7C784.7 468.6 798.3 470.6 812 472C824 473.2 836 474.5 848 475C858 475.4 868 475.8 878 475.8"/><path id="b51" d="M723 468C739 469.3 755 470.6 771 471.6C784.7 472.5 798.3 473.1 812 474C824 474.8 836 476.3 848 477C858 477.6 868 478 878 478.3"/><path id="b52" d="M723 470.4C736.3 470.4 749.7 471.6 763 473.5C767 474.1 771 476 775 477.6C779.2 479.3 783.3 481.5 787.5 483.7C791.5 485.9 795.6 488.8 799.6 491C803.6 493.2 807.7 494.8 811.7 497C815.7 499.2 819.7 502 823.7 504.2C827.7 506.4 831.8 508.4 835.8 510.2C839.9 512 843.9 513.6 848 515C852 516.4 856 518 860 518.7C866 519.8 872 520.9 878 521"/><path id="b53" d="M723 485C739 486.3 755 488.5 771 491C784.7 493.1 798.3 498 812 499.4C824 500.7 836 501.5 848 502C858 502.5 868 502.8 878 503"/><path id="b54" d="M878 475.8C889 475.5 900 475.3 911 475.3"/><path id="b55" d="M911 475.3L939 475.3"/><path id="b56" d="M939 475.3L972 475.3"/><path id="b57" d="M972 475.3L1000 475.3"/><path id="b58" d="M878 478.3C889 478.5 900 478.7 911 478.7"/><path id="b59" d="M911 478.7L939 478.7"/><path id="b60" d="M939 478.7L972 478.7"/><path id="b61" d="M972 478.7L1000 478.7"/><path id="b62" d="M878 503C889 501.5 900 500 911 500"/><path id="b63" d="M911 500L939 500"/><path id="b64" d="M939 500C950 500 961 503.7 972 503.7"/><path id="b65" d="M972 503.7L1000 503.7"/><path id="b66" d="M878 521C889 519.5 900 518 911 518"/><path id="b67" d="M911 518L939 518"/><path id="b68" d="M939 518C950 518 961 521 972 521"/><path id="b69" d="M972 521L1000 521"/><path id="b70" d="M1000 458.8L1009 458.8C1018 458.8 1027 464.1 1036 465.6C1049.7 467.8 1063.3 468.9 1077 470.4C1090.9 471.9 1104.8 473.3 1118.7 474.6C1130.5 475.7 1142.2 476.6 1154 477.5"/><path id="b71" d="M1000 468.4C1012 469.4 1024 470.4 1036 471.1C1049.7 471.9 1063.3 472.3 1077 473.2C1090.9 474.1 1104.8 475.6 1118.7 476.6C1130.5 477.5 1142.2 478.3 1154 479"/><path id="b72" d="M1000 471.1C1009.7 471.1 1019.3 471.7 1029 472.5C1033.9 472.9 1038.9 474.1 1043.8 475.5C1050.5 477.4 1057.1 481.4 1063.8 484.9C1070.7 488.5 1077.5 493.4 1084.4 497.3C1091.3 501.2 1098.1 505.4 1105 508.3C1114.2 512.2 1123.3 515.9 1132.5 517.9C1139.7 519.4 1146.8 520.8 1154 521.3"/><path id="b73" d="M1000 485.6C1012 486.7 1024 488.1 1036 489.7C1049.7 491.5 1063.3 494.6 1077 496.6C1090.9 498.7 1104.8 501 1118.7 502.1C1130.5 503 1142.2 503.8 1154 504"/><path id="b74" d="M154 554.2C166.8 554.6 179.7 555.4 192.5 556.3C206.7 557.3 220.8 559 235 560.6C244.4 561.7 253.9 563.2 263.3 564.1C272.7 565 282.2 566.2 291.6 566.2L311 566.2"/><path id="b75" d="M311 566.2C344.3 566.2 377.7 566.2 411 566.2"/><path id="b76" d="M411 566.2L438 566.2"/><path id="b77" d="M438 566.2L538 566.2"/><path id="b78" d="M538 566.2C552 566.2 566 565.6 580 565C596.7 564.3 613.3 562.4 630 561.2C646.7 560.1 663.3 558.7 680 558C685.3 557.8 690.7 557.6 696 557.5"/><path id="b79" d="M154 564.1C166.8 565.2 179.7 566.2 192.5 567C206.7 567.8 220.8 568.4 235 569.1C244.4 569.6 253.9 569.9 263.3 570.5C272.7 571.1 282.2 572.8 291.6 573.3C298.1 573.6 304.5 574 311 574"/><path id="b80" d="M311 574C344.3 574 377.7 573.5 411 573.5"/><path id="b81" d="M411 573.5L438 573.5"/><path id="b82" d="M438 573.5C471.3 573.5 504.7 573.2 538 573.2"/><path id="b83" d="M538 573.2C552 573.2 566 574.1 580 574.5C596.7 575 613.3 575.9 630 576.2C646.7 576.6 663.3 577 680 577L696 577"/><path id="b84" d="M154 570.2C166.8 569.2 179.7 568.4 192.5 568.4C206.7 568.4 220.8 569.1 235 569.1L263.3 569.1C272.7 569.1 282.2 568.8 291.6 568.4C298.1 568.1 304.5 566.2 311 566.2"/><path id="b85" d="M311 566.2C344.3 566.2 377.7 566.2 411 566.2"/><path id="b86" d="M411 566.2L438 566.2"/><path id="b87" d="M438 566.2L538 566.2"/><path id="b88" d="M538 566.2C552 566.2 566 565.6 580 565C596.7 564.3 613.3 562.4 630 561.2C646.7 560.1 663.3 558.7 680 558C685.3 557.8 690.7 557.6 696 557.5"/><path id="b89" d="M154 580.4C166.8 579.9 179.7 579.4 192.5 579C206.7 578.5 220.8 578.3 235 577.6C244.4 577.2 253.9 576.1 263.3 575.5C272.7 574.9 282.2 574 291.6 574L311 574"/><path id="b90" d="M311 574C344.3 574 377.7 573.5 411 573.5"/><path id="b91" d="M411 573.5L438 573.5"/><path id="b92" d="M438 573.5C471.3 573.5 504.7 573.2 538 573.2"/><path id="b93" d="M538 573.2C552 573.2 566 574.1 580 574.5C596.7 575 613.3 575.9 630 576.2C646.7 576.6 663.3 577 680 577L696 577"/><path id="b94" d="M696 557.5C702.3 555.7 708.7 554.3 715 554C717.7 553.9 720.3 553.8 723 553.8"/><path id="b95" d="M696 557.5C702.3 560.2 708.7 562.2 715 563C717.7 563.4 720.3 563.7 723 563.8"/><path id="b96" d="M696 577C702.3 573.3 708.7 570.6 715 570C717.7 569.7 720.3 569.5 723 569.5"/><path id="b97" d="M696 577C702.3 578.1 708.7 579 715 579.5C717.7 579.7 720.3 579.9 723 580"/><path id="b98" d="M723 554C736.3 554.2 749.7 554.9 763 555.7C779.3 556.7 795.7 558.9 812 560.5C828 562.1 844 564.1 860 565.4C866 565.9 872 566.6 878 566.6"/><path id="b99" d="M878 566.6C889 566.6 900 566 911 566"/><path id="b100" d="M911 566L939 566"/><path id="b101" d="M939 566C950 566 961 565.4 972 565"/><path id="b102" d="M972 565C981.3 564.7 990.7 564.4 1000 564"/><path id="b103" d="M723 563.4C744.5 564.1 766 564.8 787.5 565.4C817.7 566.3 847.8 568 878 568"/><path id="b104" d="M878 568C889 568 900 567 911 567"/><path id="b105" d="M911 567L939 567"/><path id="b106" d="M939 567C950 567 961 568 972 568"/><path id="b107" d="M972 568L1000 568"/><path id="b108" d="M723 570.2C744.5 569.7 766 569.5 787.5 569.5C817.7 569.5 847.8 570.3 878 571"/><path id="b109" d="M878 571C889 571.2 900 572 911 572"/><path id="b110" d="M911 572L939 572"/><path id="b111" d="M939 572C950 572 961 571 972 571"/><path id="b112" d="M972 571L1000 571"/><path id="b113" d="M723 580L763 580C779.3 580 795.7 579 812 578.2C828 577.4 844 575.5 860 575C866 574.8 872 574.8 878 574.6"/><path id="b114" d="M878 574.6C889 574.3 900 573 911 573"/><path id="b115" d="M911 573L939 573"/><path id="b116" d="M939 573C950 573 961 574.5 972 575"/><path id="b117" d="M972 575C981.3 575.4 990.7 575.8 1000 576"/><path id="b118" d="M1000 557.5C1012 557.6 1024 558.1 1036 558.6C1049.8 559.2 1063.7 561 1077.5 562C1091.3 563 1105 564.4 1118.8 564.8C1130.5 565.1 1142.3 565.4 1154 565.4"/><path id="b119" d="M1000 576.5L1036 576.5C1049.8 576.5 1063.7 576.1 1077.5 575.8C1091.3 575.5 1105 574.7 1118.8 574.4C1130.5 574.1 1142.3 573.9 1154 573.7"/><path id="b120" d="M154 615.8C179 615 204 613.9 229 612.5C256.3 611 283.7 606.6 311 606.6"/><path id="b121" d="M311 606.6C324 606.6 337 607.4 350 608C362.7 608.6 375.3 610 388 610.5C395.7 610.8 403.3 611.2 411 611.2"/><path id="b122" d="M411 611.2L438 611.2"/><path id="b123" d="M438 611.2C471.3 611.2 504.7 606.2 538 606.2"/><path id="b124" d="M538 606.2C560.3 606.2 582.7 608.6 605 610C621.7 611.1 638.3 612.9 655 613.8C668.7 614.5 682.3 615.5 696 615.5"/><path id="b125" d="M696 615.5L723 615.5"/><path id="b126" d="M723 615.5C744.5 615.5 766 613.5 787.5 612C807.7 610.6 827.8 607.3 848 606.6C858 606.3 868 605.9 878 605.9"/><path id="b127" d="M878 605.9L911 605.9"/><path id="b128" d="M911 605.9L939 605.9"/><path id="b129" d="M939 605.9L972 605.9"/><path id="b130" d="M972 605.9L1000 605.9"/><path id="b131" d="M1000 615.6C1012 615.4 1024 614.9 1036 614.3C1049.8 613.6 1063.7 612 1077.5 610.8C1091.3 609.7 1105 608.1 1118.8 607.4C1130.5 606.8 1142.3 606.2 1154 606"/><path id="b132" d="M154 626.3C180 627.8 206 629.6 232 631.5C258.3 633.4 284.7 638 311 638"/><path id="b133" d="M311 638C344.3 638 377.7 634 411 634"/><path id="b134" d="M411 634L438 634"/><path id="b135" d="M438 634C471.3 634 504.7 638 538 638"/><path id="b136" d="M538 638C560.3 638 582.7 635.8 605 634C621.7 632.7 638.3 630 655 628.5C668.7 627.3 682.3 625.5 696 625.5"/><path id="b137" d="M696 625.5L723 625.5"/><path id="b138" d="M723 625.5C744.3 625.5 765.7 627.9 787 630C803.3 631.6 819.7 636.8 836 637.5C850 638.1 864 638.5 878 638.5"/><path id="b139" d="M878 638.5L911 638.5"/><path id="b140" d="M911 638.5L939 638.5"/><path id="b141" d="M939 638.5L972 638.5"/><path id="b142" d="M972 638.5L1000 638.5"/><path id="b143" d="M154 632.8C180 632.9 206 633.7 232 634.5C258.3 635.3 284.7 639.3 311 639.3"/><path id="b144" d="M311 639.3C344.3 639.3 377.7 635 411 635"/><path id="b145" d="M411 635L438 635"/><path id="b146" d="M438 635C471.3 635 504.7 639.3 538 639.3"/><path id="b147" d="M538 639.3C560.3 639.3 582.7 637.7 605 636.5C621.7 635.6 638.3 633.1 655 633C668.7 632.9 682.3 632.8 696 632.8"/><path id="b148" d="M696 632.8L723 632.8"/><path id="b149" d="M723 632.8C744.3 632.8 765.7 633.3 787 634C803.3 634.5 819.7 638.4 836 639C850 639.5 864 640 878 640"/><path id="b150" d="M878 640L911 640"/><path id="b151" d="M911 640L939 640"/><path id="b152" d="M939 640L972 640"/><path id="b153" d="M972 640L1000 640"/><path id="b154" d="M154 635.5C180 635.5 206 636 232 636.5C258.3 637 284.7 640.4 311 640.6"/><path id="b155" d="M311 640.6C344.3 640.9 377.7 641 411 641"/><path id="b156" d="M411 641L438 641"/><path id="b157" d="M438 641C471.3 641 504.7 640.8 538 640.6"/><path id="b158" d="M538 640.6C560.3 640.4 582.7 639.8 605 639C621.7 638.4 638.3 636.3 655 636C668.7 635.7 682.3 635.5 696 635.5"/><path id="b159" d="M696 635.5L723 635.5"/><path id="b160" d="M723 635.5C744.3 635.5 765.7 636.2 787 637C803.3 637.6 819.7 639.9 836 640.5C850 641 864 641.5 878 641.5"/><path id="b161" d="M878 641.5L911 641.5"/><path id="b162" d="M911 641.5L939 641.5"/><path id="b163" d="M939 641.5L972 641.5"/><path id="b164" d="M972 641.5L1000 641.5"/><path id="b165" d="M154 638.4C180 638.5 206 639 232 639.5C258.3 640 284.7 642 311 642"/><path id="b166" d="M311 642L411 642"/><path id="b167" d="M411 642L438 642"/><path id="b168" d="M438 642L538 642"/><path id="b169" d="M538 642C560.3 642 582.7 641.8 605 641.5C621.7 641.3 638.3 640 655 639.5C668.7 639.1 682.3 638.4 696 638.4"/><path id="b170" d="M696 638.4L723 638.4"/><path id="b171" d="M723 638.4C744.3 638.4 765.7 639.3 787 640C803.3 640.5 819.7 641.5 836 642C850 642.4 864 643 878 643"/><path id="b172" d="M878 643L911 643"/><path id="b173" d="M911 643L939 643"/><path id="b174" d="M939 643L972 643"/><path id="b175" d="M972 643L1000 643"/><path id="b176" d="M1000 626.4C1012 626.4 1024 627.2 1036 628C1049.8 628.9 1063.7 632 1077.5 633.5C1091.3 635 1105 636.6 1118.8 637.5C1130.5 638.2 1142.3 638.9 1154 639.2"/><path id="b177" d="M1000 632L1036 632C1049.8 632 1063.7 633.9 1077.5 635C1091.3 636.1 1105 637.6 1118.8 638.5C1130.5 639.3 1142.3 639.9 1154 640.4"/><path id="b178" d="M1000 635.5L1036 635.5C1049.8 635.5 1063.7 637.2 1077.5 638C1091.3 638.8 1105 639.9 1118.8 640.5C1130.5 641 1142.3 641.4 1154 641.6"/><path id="b179" d="M1000 639L1036 639C1049.8 639 1063.7 639.8 1077.5 640.4C1091.3 641 1105 642.3 1118.8 642.5C1130.5 642.7 1142.3 642.8 1154 642.8"/><path id="b180" d="M205 48.5C209.2 49.5 213.3 50.4 217.5 51C221.7 51.6 225.8 52.3 230 52.5C233.3 52.7 236.7 52.8 240 52.9C245.7 53.1 251.3 53.4 257 53.4C262.7 53.4 268.3 52.3 274 52.3L291 52.3C297.7 52.3 304.3 52.6 311 53"/><path id="b181" d="M154 54.6C160.2 54.3 166.3 54 172.5 54L195 54C202.5 54 210 54.3 217.5 54.6C221.7 54.8 225.8 55.2 230 55.5C233.3 55.7 236.7 55.9 240 56.2C243.7 56.6 247.3 57.3 251 58.5C253.7 59.4 256.3 62.8 259 64.1C262 65.6 265 66.7 268 67.5C271.7 68.5 275.3 69.2 279 69.7C283 70.2 287 70.7 291 70.9C297.7 71.2 304.3 71.5 311 71.5"/><path id="b182" d="M240 54.5C243.3 55.5 246.7 56.7 250 58C252 58.8 254 60.7 256 60.7C260 60.7 264 58.5 268 57.4C271.7 56.4 275.3 54.6 279 54.6C283 54.6 287 55.4 291 56.2C294 56.8 297 58.8 300 59.6C303.7 60.6 307.3 61.5 311 62"/><path id="b183" d="M259 64.5C262 66.5 265 68.5 268 68.5C271.7 68.5 275.3 68.3 279 68C283 67.7 287 66.2 291 65C294 64.1 297 62.6 300 61.5C303.7 60.2 307.3 59 311 58"/><path id="b184" d="M154 78.7C159.8 78.2 165.5 77.6 171.3 76.9C178.4 76 185.4 74.8 192.5 73.7C199.6 72.6 206.7 71.1 213.8 70.1C220.9 69.1 227.9 67.5 235 67.5C242 67.5 249 67.7 256 68.1C258 68.2 260 68.8 262 69.2C266 69.9 270 70.7 274 71.4C279.3 72.3 284.7 73.4 290 74C297 74.9 304 75.6 311 76"/><path id="b185" d="M154 91.1C159 91.1 164 91.6 169 92.2C173.9 92.8 178.8 94.9 183.7 96.2C187.1 97.1 190.5 99 193.9 99C197.3 99 200.6 97.9 204 97.9C207 97.9 210 99 213 99C216.4 99 219.8 97.5 223.2 96.7C227.3 95.8 231.4 94.5 235.5 93.9C237 93.7 238.5 93.6 240 93.4C245.7 92.5 251.3 89.4 257 86.6C260.7 84.8 264.3 82 268 79.9C270 78.7 272 77.3 274 76.5C275.7 75.8 277.3 75 279 74.8C283 74.4 287 74.5 291 74.2C297.7 73.6 304.3 70.7 311 67"/><path id="b186" d="M154 101.8L169 101.8C173.9 101.8 178.8 102.3 183.7 102.9C187.1 103.3 190.5 105.2 193.9 106.3C196.9 107.3 199.9 108.8 202.9 109.1C206.3 109.4 209.6 109.7 213 109.7C216.4 109.7 219.8 109.1 223.2 108.6C227.3 107.9 231.4 106.3 235.5 104.6C237 104 238.5 103.1 240 102.4C245.7 99.7 251.3 96.9 257 94.5C262.7 92.1 268.3 88.3 274 87.7C277.7 87.3 281.3 87.2 285 87C290 86.7 295 86 300 86L311 86"/><path id="b187" d="M200 108.2C204.3 107.5 208.7 106.3 213 105C216.4 104 219.8 102.2 223.2 101C227.3 99.5 231.4 98.3 235.5 97C237 96.5 238.5 96.1 240 95.6C245.7 93.8 251.3 92 257 90C262.7 88 268.3 83.8 274 83.2C279.7 82.6 285.3 82.2 291 82.1C297.7 82 304.3 82 311 82"/><path id="b188" d="M154 113.6C159 113.6 164 113.1 169 112.5C173.9 112 178.8 110.3 183.7 109.1C187.1 108.2 190.5 107.4 193.9 106.3C196.9 105.3 199.9 103.9 202.9 102.9C206.3 101.8 209.6 100.9 213 100.1C216.4 99.3 219.8 98.7 223.2 97.9C227.3 96.9 231.4 96.4 235.5 94.5C237 93.8 238.5 91 240 90C245.7 86.1 251.3 84.6 257 82C260.7 80.3 264.3 77.3 268 77C275.7 76.3 283.3 76 291 76L311 76"/><path id="b189" d="M154 122.6C159.8 122.7 165.5 123.1 171.3 123.6C178.4 124.2 185.4 125.6 192.5 126.8C199.6 128 206.7 131.1 213.8 131.1C219.2 131.1 224.6 128.8 230 126.5C233.3 125.1 236.7 121 240 119.2C245.7 116.2 251.3 115.1 257 112.5C262.7 109.9 268.3 106.1 274 103.5C277.7 101.8 281.3 99.8 285 99C290 97.9 295 96.7 300 96.7C303.7 96.7 307.3 96.7 311 97"/><path id="b190" d="M154 140.6C159.8 140.4 165.5 140 171.3 139.5C178.4 138.9 185.4 138 192.5 136.9C199.6 135.8 206.7 134.6 213.8 132.7C217.2 131.8 220.6 130.2 224 129C227.7 127.7 231.3 126.1 235 125C236.7 124.5 238.3 124.2 240 123.7C245.7 122 251.3 119.2 257 117C262.7 114.8 268.3 111.9 274 110.2C279.7 108.5 285.3 106.7 291 106C297.7 105.1 304.3 104.3 311 104.3"/><path id="b191" d="M154 151.8C159.8 151.8 165.5 151.7 171.3 151.5C178.4 151.3 185.4 149.9 192.5 148.6C199.6 147.3 206.7 145.3 213.8 142.8C217.2 141.6 220.6 139.8 224 138C227.7 136 231.3 133.9 235 131C236.7 129.7 238.3 126.8 240 126C245.7 123.3 251.3 123.4 257 121.5C262.7 119.6 268.3 114.2 274 113.6C279.7 113 285.3 112.5 291 112.5C297.7 112.5 304.3 112.7 311 113.3"/><path id="b192" d="M154 155.5L171.3 155.5C178.4 155.5 185.4 152.3 192.5 150.5C199.6 148.7 206.7 146.7 213.8 144.3C217.2 143.2 220.6 141.7 224 140.5C227.7 139.2 231.3 137.7 235 137C240.3 136 245.7 135.7 251 135C256.7 134.3 262.3 133.2 268 132.7C273.7 132.2 279.3 131.7 285 131.6C293.7 131.4 302.3 131.3 311 131.3"/><path id="b193" d="M240 95C245.7 95.8 251.3 96 257 96C262.7 96 268.3 94.3 274 94C279.7 93.7 285.3 93.5 291 93.5L311 93.5"/><path id="b194" d="M154 180C159.8 180 165.5 178.7 171.3 177.5C175.9 176.5 180.4 174.2 185 172C188.3 170.4 191.7 167.9 195 166C200 163.2 205 160.7 210 158C215 155.3 220 152.8 225 150C229 147.8 233 144.9 237 143C240.3 141.4 243.7 140 247 139C249.7 138.2 252.3 137.7 255 137C258.3 136.1 261.7 134.9 265 134C268.3 133.1 271.7 131.7 275 131.5C281.7 131.2 288.3 131 295 131C300.3 131 305.7 131 311 131.2"/><path id="b195" d="M154 183.1C159.8 182.9 165.5 181.7 171.3 180.5C175.9 179.5 180.4 177.5 185 175.5C188.3 174 191.7 171.6 195 170C200 167.7 205 166.2 210 164C215 161.8 220 158.8 225 157C228.3 155.8 231.7 155.3 235 154C239 152.4 243 148.8 247 147C249.7 145.8 252.3 144 255 144C260 144 265 144.5 270 144.5C275 144.5 280 144 285 144L311 144"/><path id="b196" d="M154 186.3C159.8 185.9 165.5 184.8 171.3 183.5C175.9 182.5 180.4 180.8 185 179C188.3 177.7 191.7 175.2 195 174C200 172.2 205 171.8 210 170C215 168.2 220 164.8 225 162C228.3 160.1 231.7 158.1 235 156C239 153.5 243 148 247 148C250.3 148 253.7 149.1 257 150C261.3 151.2 265.7 154.5 270 156C275 157.7 280 159.3 285 160C293.7 161.2 302.3 162.2 311 162.2"/><path id="b197" d="M154 189.5C159.8 189.4 165.5 188.4 171.3 187.4C175.9 186.6 180.4 184.8 185 183C188.3 181.7 191.7 179 195 178C200 176.5 205 176.4 210 175C215 173.6 220 170.3 225 168C230 165.7 235 162.9 240 161C245 159.1 250 157.8 255 156C258.3 154.8 261.7 153.8 265 152C266.7 151.1 268.3 149.1 270 148.5C273.3 147.2 276.7 146 280 146L295 146C300.3 146 305.7 146.2 311 146.5"/><path id="b198" d="M154 208.1C159.8 208.1 165.5 207 171.3 206C178.4 204.7 185.4 201.2 192.5 198C199.6 194.8 206.7 190.3 213.8 186.3C217.5 184.2 221.3 182 225 180C230 177.3 235 174.1 240 172C245 169.9 250 167.6 255 167C260 166.4 265 166 270 166C275 166 280 167.3 285 168C293.7 169.2 302.3 170.3 311 171.5"/><path id="b199" d="M311 53C316.5 53.4 322 53.4 327.5 53.4C329.7 53.4 332 52.5 334.2 52.3C337.6 52 341 51.9 344.4 51.7C348.1 51.5 351.9 51.4 355.6 51.2C358.2 51 360.9 50.9 363.5 50.6C366.3 50.3 369.2 49.7 372 49"/><path id="b200" d="M311 58C316.5 56.5 322 56.5 327.5 56.5C329.4 56.5 331.2 56.9 333.1 57.4C335 57.9 336.8 59.9 338.7 60.7C342.5 62.4 346.2 64.5 350 64.7C357.5 65 365 65 372.5 65.2C380 65.4 387.5 65.8 395 66.4C400.3 66.8 405.7 67.7 411 68.6"/><path id="b201" d="M311 62C314.7 62 318.3 62.2 322 62.5C325.7 62.8 329.4 63.8 333.1 64.7C336.9 65.6 340.6 67.4 344.4 68.6C348.1 69.8 351.9 71 355.6 72C359.7 73.1 363.9 74.5 368 74.8C373.2 75.2 378.5 75.4 383.7 75.4C387.5 75.4 391.2 73.1 395 73.1L411 73.1"/><path id="b202" d="M311 67C316.5 67.1 322 67.8 327.5 68.6C331.2 69.1 335 70 338.7 71C342.5 72 346.2 73.7 350 74.8C353.7 75.9 357.5 77.1 361.2 77.6C365 78.1 368.7 78.7 372.5 78.7C376.2 78.7 380 78 383.7 77.6C387.5 77.2 391.2 76 395 76C400.3 75.9 405.7 75.9 411 75.9"/><path id="b203" d="M311 71.5C316.5 71.5 322 72 327.5 72.6C331.2 73 335 74.4 338.7 75.4C342.5 76.4 346.2 77.8 350 78.7C353.7 79.6 357.5 81 361.2 81L372.5 81C376.2 81 380 79.4 383.7 78.7C387.5 77.9 391.2 76.7 395 76.5C400.3 76.2 405.7 75.9 411 75.9"/><path id="b204" d="M311 76C316.5 76 322 76.2 327.5 76.5C330.5 76.7 333.5 80.1 336.5 81C340.2 82.1 344 82.1 347.7 83.2C350.3 84 353 86.9 355.6 87.7C359.7 88.9 363.9 90 368 90C373.2 90 378.5 88.3 383.7 87.7C387.5 87.3 391.2 86.6 395 86.6C400.3 86.6 405.7 87.1 411 88.3"/><path id="b205" d="M311 82C316.5 82 322 82.9 327.5 83.8C331.2 84.4 335 86.7 338.7 87.7C342.5 88.7 346.2 89.6 350 90C356 90.6 362 91.1 368 91.1L383.7 91.1C387.5 91.1 391.2 90.4 395 90C400.3 89.5 405.7 88.9 411 88.3"/><path id="b206" d="M311 86C316.5 86.2 322 86.8 327.5 87.5C331.2 88 335 88.7 338.7 89.5C342.5 90.3 346.2 91.7 350 92.5C353.7 93.3 357.5 93.8 361.2 94.5C365 95.2 368.7 96.2 372.5 96.7C376.2 97.2 380 97.4 383.7 97.9C387.5 98.4 391.2 99.5 395 100.1C400.3 101 405.7 101.8 411 102.4"/><path id="b207" d="M311 93.5C316.5 93.8 322 94.1 327.5 94.5C332.4 94.8 337.2 95.1 342.1 95.6C344.7 95.9 347.4 96.2 350 96.7C353.7 97.5 357.5 99.9 361.2 101.2C365 102.5 368.7 104 372.5 104.6C376.2 105.2 380 105.7 383.7 105.7C387.5 105.7 391.2 105 395 104.6C400.3 104 405.7 103.3 411 102.4"/><path id="b208" d="M311 97C316.5 97.2 322 97.3 327.5 97.5C332.4 97.7 337.2 97.7 342.1 98C344.7 98.2 347.4 98.5 350 99C353.7 99.7 357.5 101.7 361.2 103C365 104.3 368.7 106.5 372.5 107C376.2 107.5 380 108 383.7 108C387.5 108 391.2 105.8 395 105C400.3 103.9 405.7 102.9 411 102.4"/><path id="b209" d="M311 104.3C316.5 103.7 322 103.5 327.5 103.5C333.1 103.5 338.8 103.9 344.4 104.6C347 104.9 349.6 106.8 352.2 108C355.2 109.4 358.2 111.2 361.2 112.5C365 114.2 368.7 116 372.5 117C376.2 118 380 118.3 383.7 119.2C387.5 120.1 391.2 122.2 395 122.6C400.3 123.2 405.7 123.7 411 123.7"/><path id="b210" d="M311 113.3C316.5 113.3 322 113.4 327.5 113.6C331.2 113.7 335 117.2 338.7 119.2C342.5 121.3 346.2 123.3 350 126C352.6 127.9 355.3 130.7 357.9 132.7C361.6 135.4 365.2 138.2 368.9 139.9C376.6 143.5 384.4 147.7 392.1 147.7L411 147.7"/><path id="b211" d="M311 131.3C316.5 130.7 322 130.2 327.5 129.9C335 129.4 342.5 128.8 350 128.8C357.5 128.8 365 129.9 372.5 130.5C380 131.1 387.5 131.5 395 132.7C400.3 133.5 405.7 135.7 411 138"/><path id="b212" d="M311 143.4C317.4 143.3 323.8 142.6 330.2 141.9C336.6 141.2 343.1 138 349.5 138C356 138 362.4 139.1 368.9 139.9C376.6 140.8 384.4 142.4 392.1 143.8C398.4 145 404.7 146.3 411 147.7"/><path id="b213" d="M311 146.2C317.4 146.2 323.8 146.9 330.2 147.7C336.6 148.5 343.1 152 349.5 152.5C356 153.1 362.4 152.9 368.9 153.5C376.6 154.2 384.4 158.4 392.1 161.3C398.4 163.6 404.7 166.2 411 169"/><path id="b214" d="M311 162.2L330.2 162.2C338.1 162.2 346.1 161.9 354 161.3C359 160.9 363.9 155.4 368.9 155.4L382.5 155.4C385.7 155.4 388.9 158.4 392.1 160C398.4 163.2 404.7 166.5 411 170"/><path id="b215" d="M311 171.5C317.4 171 323.8 170.1 330.2 169C338.1 167.7 346.1 163.2 354 163.2L368.9 163.2C376.6 163.2 384.4 167.3 392.1 169C398.4 170.4 404.7 171.7 411 172.9"/><path id="b216" d="M411 68.3C420 68.6 429 68.9 438 69.2"/><path id="b217" d="M411 73.1C415.7 74.5 420.3 75.8 425 77C429.3 78.1 433.7 79 438 79.9"/><path id="b218" d="M411 75.9C415.7 76.6 420.3 77.3 425 78C429.3 78.6 433.7 79.3 438 79.9"/><path id="b219" d="M411 88.3C415.7 87.9 420.3 86.9 425 85.7C429.3 84.6 433.7 82.8 438 80.8"/><path id="b220" d="M411 102.2C415.7 103 420.3 104 425 105.1C429.3 106.2 433.7 107.5 438 108.9"/><path id="b221" d="M411 124.4C420 123.4 429 122.5 438 121.5"/><path id="b222" d="M411 138L438 138"/><path id="b223" d="M411 147.7L438 147.7"/><path id="b224" d="M411 169C420 169.3 429 169.7 438 170"/><path id="b225" d="M411 172.9C420 172.1 429 171.3 438 170.5"/><path id="b226" d="M438 69.2C448.2 69.2 458.5 68.8 468.7 68.3C478.4 67.9 488.1 65.9 497.8 65.3C504.2 64.9 510.7 64.8 517.1 64.4C524.1 64 531 63.2 538 62.4"/><path id="b227" d="M438 79.9C445 77.6 452 77 459 77C466.8 77 474.5 82.8 482.3 82.8C486.2 82.8 490 82.3 493.9 81.8C498.4 81.2 502.9 78.1 507.4 76C512.6 73.6 517.7 69.6 522.9 68.3C527.9 67.1 533 65.8 538 65.8"/><path id="b228" d="M438 80.8C445 82.4 452 83.9 459 84.7C466.8 85.6 474.5 85.8 482.3 86.7C489.4 87.5 496.5 89.3 503.6 90.5C510 91.5 516.5 93.1 522.9 93.4C527.9 93.7 533 93.9 538 93.9"/><path id="b229" d="M438 108.9C445 108.9 452 108 459 107C465.5 106.1 471.9 103.3 478.4 101.2C484.9 99.1 491.3 97.2 497.8 94.4C499.7 93.6 501.7 92.5 503.6 91.5C508.1 89.1 512.6 85.5 517.1 83.8C524.1 81.1 531 78.6 538 77.9"/><path id="b230" d="M438 121.5C445 122.5 452 122.5 459 122.5C465.5 122.5 471.9 120.6 478.4 118.6C484.9 116.6 491.3 107.1 497.8 105.1C504.2 103.1 510.7 101.2 517.1 101.2C524.1 101.2 531 101.2 538 102"/><path id="b231" d="M438 138C445 138 452 137.5 459 137C465.5 136.5 471.9 135.4 478.4 134.1C484.9 132.8 491.3 130.6 497.8 128.3C504.2 126 510.7 121.1 517.1 119.6C524.1 117.9 531 116.3 538 116.2"/><path id="b232" d="M438 147.7C445 148.5 452 148.7 459 148.7C464.2 148.7 469.3 148.3 474.5 147.7C479 147.2 483.6 141.5 488.1 139.9C493.3 138.1 498.4 136.1 503.6 136.1C508.1 136.1 512.6 136.7 517.1 137C524.1 137.5 531 138 538 138.5"/><path id="b233" d="M438 170C443.7 169.3 449.5 167.8 455.2 166.1C462.9 163.8 470.7 155.4 478.4 155.4C484.9 155.4 491.3 156.1 497.8 156.4C504.2 156.7 510.7 157.4 517.1 157.4C524.1 157.4 531 157.2 538 156.6"/><path id="b234" d="M438 170.5C443.7 170.4 449.5 169.7 455.2 169C462.9 168 470.7 163.2 478.4 163.2C484.9 163.2 491.3 163.6 497.8 164.2C504.2 164.7 510.7 168 517.1 169C524.1 170.1 531 171.1 538 171.4"/><path id="b235" d="M478 49C480.3 50.1 482.5 51.3 484.8 51.8C491.1 53.2 497.3 54.3 503.6 54.3C510 54.3 516.5 53 522.9 51.8C525.9 51.2 529 50.1 532 49"/><path id="b236" d="M538 62.4C543.8 63.7 549.7 63.7 555.5 63.7C561.2 63.7 566.8 59.7 572.5 59.4C579.6 59 586.6 59.2 593.7 58.8C596.5 58.6 599.4 56.3 602.2 55.6C607.9 54.1 613.5 52.4 619.2 52.4L640 52.4C647.5 52.4 655 53.2 662.5 53.5C673.7 53.9 684.8 54.3 696 54.6"/><path id="b237" d="M565 49C567.5 50 570 51.2 572.5 51.4C581.7 52.1 590.9 52.4 600.1 52.4C608.6 52.4 617.1 51.7 625.6 51.4C630.4 51.2 635.2 51.1 640 51"/><path id="b238" d="M538 65.8C543.8 65.2 549.7 65.2 555.5 65.2C561.2 65.2 566.8 69.3 572.5 72.6C576 74.6 579.6 78.6 583.1 81.1C588.8 85.1 594.4 88.5 600.1 91.7C606.5 95.3 612.8 99.3 619.2 101.3C623.7 102.7 628.2 104.5 632.7 104.5C639.1 104.5 645.5 103.4 651.9 102.4C659 101.3 666 97.8 673.1 97.1C680.7 96.3 688.4 95.6 696 95.6"/><path id="b239" d="M538 77.9C542.4 78.3 546.8 79.2 551.2 80.1C554.8 80.9 558.3 83.2 561.9 83.2C565.4 83.2 569 82.8 572.5 82.2C576 81.6 579.6 78.1 583.1 76.9C588.8 74.9 594.4 72.6 600.1 72.6C606.7 72.6 613.4 74.6 620 75.8C627.1 77.1 634.1 78.7 641.2 80.1C648.3 81.5 655.4 83.2 662.5 84.3C669.6 85.4 676.6 86.7 683.7 87.1C687.8 87.3 691.9 87.5 696 87.5"/><path id="b240" d="M538 93.9C543.8 94.3 549.7 94.3 555.5 94.3C561.2 94.3 566.8 92.8 572.5 92.8C576 92.8 579.6 94.6 583.1 96C588.8 98.2 594.4 103.1 600.1 106.6C606.5 110.5 612.8 117.2 619.2 118.3C626.5 119.5 633.9 120.4 641.2 120.4L673.1 120.4L696 120.4"/><path id="b241" d="M538 102C543.8 101.3 549.7 101.3 555.5 101.3C561.2 101.3 566.8 103.1 572.5 104.5C579.6 106.3 586.6 109.6 593.7 113C600.8 116.4 607.8 121.5 614.9 125.7C618.5 127.8 622 130.3 625.6 132.1C630.8 134.7 636 137.1 641.2 138.5C648.3 140.4 655.4 141.6 662.5 142.7C673.7 144.4 684.8 145.9 696 146.6"/><path id="b242" d="M538 116.2C543.8 116.3 549.7 116.7 555.5 117.2C561.2 117.7 566.8 118.4 572.5 119.4C579.6 120.6 586.6 122.9 593.7 124.7C600.8 126.5 607.8 127.4 614.9 130C618.5 131.3 622 134 625.6 136C630.8 138.9 636 141.9 641.2 144.9C648.3 149 655.4 154.2 662.5 157.6C669.6 161 676.6 164.7 683.7 166.1C687.8 166.9 691.9 167.6 696 167.8"/><path id="b243" d="M538 138.5L555.5 138.5C561.2 138.5 566.8 139.2 572.5 139.6C579.6 140.1 586.6 140.6 593.7 141.7C599.4 142.6 605 144.7 610.7 147C615.7 149 620.6 152.7 625.6 155.5C630.8 158.4 636 161.3 641.2 164C648.3 167.7 655.4 171.9 662.5 174.6C669.6 177.3 676.6 180.1 683.7 181C687.8 181.5 691.9 182.1 696 182.1"/><path id="b244" d="M538 156.6C543.8 156.4 549.7 156 555.5 155.5C561.2 155 566.8 153.8 572.5 153.4C579.6 152.9 586.6 152.3 593.7 152.3L604.3 152.3C609.3 152.3 614.2 154.1 619.2 155.5C626.5 157.6 633.9 162.6 641.2 166C648.3 169.3 655.4 173 662.5 175.5C669.6 177.9 676.6 180.9 683.7 181.5C687.8 181.8 691.9 182.1 696 182.1"/><path id="b245" d="M538 171.4C543.8 169.3 549.7 167.5 555.5 166.1C561.2 164.8 566.8 163.4 572.5 162.9C578.2 162.4 583.8 161.9 589.5 161.9C594.4 161.9 599.4 163.7 604.3 165.1C611.4 167.1 618.5 171.1 625.6 174.6C630.8 177.2 636 180.4 641.2 183.1C648.3 186.8 655.4 190.5 662.5 193.7C669.6 196.8 676.6 201.2 683.7 202.2C687.8 202.8 691.9 203.3 696 203.3"/><path id="b246" d="M696 54.6L723 54.6"/><path id="b247" d="M696 87.5C700.7 84.6 705.3 82.1 710 81C714.3 80 718.7 79 723 79"/><path id="b248" d="M696 87.5C700.7 88.3 705.3 89 710 89.5C714.3 90 718.7 90.4 723 90.7"/><path id="b249" d="M696 95.6C700.7 96.9 705.3 98 710 99C714.3 99.9 718.7 100.7 723 101.3"/><path id="b250" d="M696 95.6C700.7 95.6 705.3 96.5 710 97.5C714.3 98.4 718.7 100.6 723 103"/><path id="b251" d="M696 120.4C700.7 117.8 705.3 115.5 710 115C714.3 114.5 718.7 114.1 723 114.1"/><path id="b252" d="M696 120.4C700.7 120.6 705.3 120.8 710 121C714.3 121.2 718.7 121.3 723 121.5"/><path id="b253" d="M696 146.6C700.7 144.2 705.3 142 710 141.5C714.3 141 718.7 140.6 723 140.6"/><path id="b254" d="M696 146.6C700.7 148.1 705.3 149.4 710 150C714.3 150.6 718.7 151.1 723 151.2"/><path id="b255" d="M696 167.8C700.7 164.6 705.3 161.9 710 160C714.3 158.2 718.7 156.7 723 155.8"/><path id="b256" d="M696 167.8C700.7 172 705.3 175.7 710 178C714.3 180.2 718.7 182.1 723 183"/><path id="b257" d="M696 182.1C700.7 181.7 705.3 181.4 710 181C714.3 180.7 718.7 180.3 723 180"/><path id="b258" d="M696 182.1C700.7 183.3 705.3 184.4 710 185C714.3 185.6 718.7 186.1 723 186.3"/><path id="b259" d="M696 203.3C700.7 200.1 705.3 197.3 710 195C714.3 192.9 718.7 191 723 189.5"/><path id="b260" d="M696 203.3C700.7 204.2 705.3 205.1 710 206C714.3 206.9 718.7 207.7 723 208.6"/><path id="b261" d="M723 54.6C728.1 54.6 733.1 54.8 738.2 55.1C742.7 55.4 747.2 56.9 751.7 57.9C756.6 59 761.5 60.3 766.4 61.3C771.6 62.4 776.9 64.1 782.1 64.1C786 64.1 789.8 63.9 793.7 63.6C797.5 63.3 801.2 61.1 805 60C808.7 58.9 812.3 57.4 816 57C820.7 56.5 825.3 56.3 830 56C836.7 55.6 843.3 55 850 55L878 55"/><path id="b262" d="M778 49C781.3 49.9 784.7 51 788 52.3C790.7 53.3 793.3 54.6 796 56C799 57.6 802 59.8 805 61.5C808.7 63.6 812.5 65.7 816.2 67.5C820 69.3 823.7 72.5 827.5 72.5C831.2 72.5 835 70.9 838.7 69.7C842.5 68.4 846.2 65.6 850 64.1C853.7 62.6 857.5 61.3 861.2 60.5C866.8 59.3 872.4 58.3 878 58"/><path id="b263" d="M768 48.5C775.3 49.6 782.7 50.5 790 51C796.7 51.5 803.3 51.8 810 52C820 52.3 830 52.5 840 52.5L878 52.5"/><path id="b264" d="M723 78.7C727 78.7 730.9 79.3 734.9 79.9C738.6 80.5 742.4 82.9 746.1 84.4C751.4 86.5 756.6 88.3 761.9 90.6C766 92.4 770.1 94.8 774.2 96.7C776.8 97.9 779.5 100.1 782.1 100.1C787.9 100.1 793.6 99 799.4 97.9C803.1 97.2 806.9 95.8 810.6 94.5C814.4 93.2 818.1 92 821.9 90C824.5 88.6 827.1 86.3 829.7 84.4C832.7 82.3 835.7 79.8 838.7 78C842.5 75.7 846.2 73.7 850 72C855 69.7 860 67.1 865 66C869.3 65 873.7 64.2 878 64"/><path id="b265" d="M723 90.6L738.2 90.6L751.7 90.6L761.9 90.6C765.9 90.6 770 89.5 774 89.5C778.7 89.5 783.3 90.4 788 91C792.9 91.6 797.8 93.4 802.7 93.4C805.3 93.4 808 92 810.6 91.1C814.4 89.8 818.1 88.6 821.9 86.6C824.5 85.2 827.1 82.7 829.7 81C832.7 79 835.7 77.1 838.7 75.4C841.7 73.7 844.7 72.2 847.7 70.9C852.2 69 856.7 66 861.2 66C866.8 66 872.4 66 878 66.4"/><path id="b266" d="M723 100.1L738.2 100.1C742.7 100.1 747.2 96.3 751.7 94.5C755.1 93.1 758.5 92.1 761.9 90.6C765.3 89.1 768.6 87.1 772 85.5C775.4 83.9 778.7 82.4 782.1 81C784.1 80.2 786 78.7 788 78.7L799.4 78.7C803.1 78.7 806.9 79.1 810.6 79.3C816.2 79.5 821.9 79.9 827.5 79.9C835 79.9 842.5 79.1 850 78.7C855.6 78.4 861.3 77.6 866.9 77.6C870.6 77.6 874.3 77.7 878 78"/><path id="b267" d="M723 101.8C728.8 102.2 734.7 102.8 740.5 103.5C746.1 104.2 751.8 106.3 757.4 106.3C761.1 106.3 764.9 106 768.6 105.7C772.4 105.4 776.1 103.5 779.9 103.5L793.7 103.5C797.5 103.5 801.2 104.6 805 104.6C808.7 104.6 812.5 101.1 816.2 100.1C820 99.1 823.7 98.2 827.5 97.9C835 97.2 842.5 96.9 850 96.7C859.3 96.4 868.7 96.2 878 96.2"/><path id="b268" d="M723 114.7C728.1 114.7 733.1 115 738.2 115.3C742.7 115.6 747.2 116.5 751.7 117C755.5 117.4 759.2 118.1 763 118.1C766.7 118.1 770.5 116.8 774.2 115.9C778 115 781.7 113.5 785.5 112.5C790.1 111.2 794.8 111.1 799.4 109.1C801.3 108.3 803.1 104.9 805 103.5C808.7 100.6 812.5 99.3 816.2 96.7C818.1 95.4 820 93.9 821.9 92.2C824.5 89.9 827.1 86.6 829.7 84.4C832.7 81.8 835.7 79.8 838.7 77.6C841.7 75.4 844.7 73 847.7 71C852.2 68 856.7 64.3 861.2 63C866.8 61.4 872.4 60 878 60"/><path id="b269" d="M723 122L738.2 122C742.7 122 747.2 121 751.7 120.4C757.3 119.6 763 118.8 768.6 117.6C773.1 116.6 777.6 115.4 782.1 113.6C784.1 112.8 786 111.2 788 110.2C791.8 108.2 795.6 106.7 799.4 105C803.1 103.3 806.9 101.7 810.6 100C814.4 98.3 818.1 97 821.9 95C825.6 93.1 829.3 90.4 833 88C837 85.4 841 82 845 80C850 77.5 855 74.7 860 74C866 73.2 872 72.6 878 72.6"/><path id="b270" d="M723 140.6C730.3 140.5 737.7 139.8 745 139C751.8 138.3 758.5 136.2 765.3 135C772 133.8 778.8 132.5 785.5 131.6C790 131 794.5 130.7 799 130.2C803.5 129.7 808 129.1 812.5 128.2C817 127.3 821.5 124.6 826 124.2C830.5 123.8 835 123.5 839.5 123.5C844 123.5 848.5 126.3 853 127.5C857.5 128.7 862 130.2 866.5 130.9C870.3 131.5 874.2 132 878 132.1"/><path id="b271" d="M723 151.2C730.3 151.1 737.7 150.5 745 149.8C751.8 149.2 758.5 147.7 765.3 146.4C771.1 145.3 777 143.3 782.8 142.4C786.4 141.8 790 141.7 793.6 141C797.7 140.3 801.7 138.8 805.8 137C808.9 135.6 811.9 133.1 815 131C817.3 129.4 819.6 126.5 821.9 126C825.6 125.1 829.4 124.5 833.1 124.5C838.7 124.5 844.4 127.4 850 128.2C859.3 129.5 868.7 130.8 878 131"/><path id="b272" d="M723 180C728.1 179.8 733.2 178.7 738.3 177.5C745 175.9 751.8 171.7 758.5 168C765.3 164.3 772 159.7 778.8 154.5C783.3 151 787.8 147.4 792.3 142.4C794.7 139.8 797 136.2 799.4 132.7C801.3 129.9 803.1 126.1 805 123.7C808.7 119 812.5 115 816.2 112.5C820 110 823.7 108 827.5 106.9C831.2 105.8 835 104.6 838.7 104.6C842.5 104.6 846.2 105.7 850 105.7C853.7 105.7 857.5 103.9 861.2 103.5C866.8 102.9 872.4 102.4 878 102.4"/><path id="b273" d="M723 183C728.1 182.5 733.2 181.5 738.3 180.2C745 178.5 751.8 175.6 758.5 172.1C765.3 168.6 772 162.3 778.8 157.2C784.6 152.8 790.5 147.7 796.3 143.7C801.1 140.5 805.8 138.6 810.6 135C814.4 132.1 818.1 126.5 821.9 123.7C825.6 120.9 829.4 119 833.1 117C836.9 115 840.6 112.1 844.4 111.4C848.1 110.7 851.9 110.2 855.6 110.2C863.1 110.2 870.5 111.6 878 114.5"/><path id="b274" d="M723 155.8C730.3 155.8 737.7 155.5 745 155.2C751.8 154.9 758.5 153.1 765.3 151.8C771.1 150.7 777 148.7 782.8 147.8C788.2 146.9 793.6 145.8 799 145.8C803.5 145.8 808 147.1 812.5 147.8C817 148.5 821.5 149.5 826 149.8C830.5 150.1 835 150.5 839.5 150.5L853 150.5C857.5 150.5 862 149.5 866.5 149.1C870.3 148.7 874.2 148.4 878 148.1"/><path id="b275" d="M812 158C815.8 156.5 819.5 154.9 823.3 153.2C828.7 150.7 834.1 147.7 839.5 145.1C844 143 848.5 140.9 853 139C857.5 137.1 862 134.5 866.5 133.6C870.3 132.9 874.2 132.1 878 132.1"/><path id="b276" d="M723 186.3C728.1 186.3 733.2 185.6 738.3 184.9C745 183.9 751.8 178.6 758.5 176.1C765.3 173.6 772 171.7 778.8 169.4C785.5 167.2 792.3 164.2 799 162.6C803.5 161.5 808 161.2 812.5 160C817 158.8 821.5 156.7 826 154.5C830.5 152.3 835 147.6 839.5 146.4C844 145.2 848.5 144 853 144C861.3 144 869.7 144 878 144.9"/><path id="b277" d="M723 189.5C728.1 189 733.2 188.3 738.3 187.6C747.3 186.3 756.3 185.1 765.3 182.9C772 181.2 778.8 177.3 785.5 174.8C792.3 172.3 799 168.7 805.8 168C812.5 167.3 819.3 166.7 826 166.7C832.8 166.7 839.5 168.4 846.3 169.4C853 170.4 859.8 172.5 866.5 173C870.3 173.3 874.2 173.6 878 173.6"/><path id="b278" d="M723 208.6C728.1 208.4 733.2 207.2 738.3 205.8C745 204 751.8 199 758.5 195C765.3 191 772 185.5 778.8 181.5C785.5 177.5 792.3 173.2 799 170.7C803.5 169 808 167.4 812.5 166.7C817 166 821.5 165.3 826 165.3C832.8 165.3 839.5 166.7 846.3 166.7C853 166.7 859.8 164 866.5 164L878 164"/><path id="b279" d="M878 53L911 53"/><path id="b280" d="M911 53C920.3 53 929.7 53.4 939 53.4"/><path id="b281" d="M939 53.4L972 53.4"/><path id="b282" d="M972 53.4C981.3 53.4 990.7 53.5 1000 53.5"/><path id="b283" d="M878 58.5C889 58.5 900 58.2 911 58"/><path id="b284" d="M911 58C915.7 57.9 920.3 57.5 925 57.5C929.7 57.5 934.3 59.2 939 59.5"/><path id="b285" d="M939 59.5C950 60.2 961 60.7 972 60.7"/><path id="b286" d="M972 60.7C976.7 60.7 981.3 58.8 986 58.5C990.7 58.2 995.3 58 1000 58"/><path id="b287" d="M878 63.5C889 63 900 63 911 63"/><path id="b288" d="M911 63C915.7 63 920.3 63.9 925 64C929.7 64.1 934.3 64.1 939 64.1"/><path id="b289" d="M939 64.1L972 64.1"/><path id="b290" d="M972 64.1C976.7 64.1 981.3 63.5 986 63.5L1000 63.5"/><path id="b291" d="M878 67.5C889 67.5 900 67.2 911 67"/><path id="b292" d="M911 67C915.7 66.9 920.3 66.7 925 66.5C929.7 66.3 934.3 65.6 939 65.5"/><path id="b293" d="M939 65.5C950 65.2 961 65 972 65"/><path id="b294" d="M972 65C976.7 65 981.3 66 986 66.5C990.7 67 995.3 67.5 1000 68"/><path id="b295" d="M878 73C889 73 900 73.4 911 74"/><path id="b296" d="M911 74C915.7 74.3 920.3 75.4 925 76C929.7 76.6 934.3 77.6 939 77.6"/><path id="b297" d="M939 77.6L972 77.6"/><path id="b298" d="M972 77.6C976.7 77.6 981.3 76.3 986 75.5C990.7 74.7 995.3 73.9 1000 73"/><path id="b299" d="M878 77C889 77.2 900 77.4 911 77.5"/><path id="b300" d="M911 77.5C915.7 77.5 920.3 77.6 925 77.6L939 77.6"/><path id="b301" d="M939 77.6L972 77.6"/><path id="b302" d="M972 77.6C976.7 77.6 981.3 77.5 986 77.5L1000 77.5"/><path id="b303" d="M878 80C889 80 900 80.5 911 81.5"/><path id="b304" d="M911 81.5C915.7 81.9 920.3 85.1 925 87C929.7 88.9 934.3 93.2 939 93.2"/><path id="b305" d="M939 93.2L972 93.2"/><path id="b306" d="M972 93.2C976.7 93.2 981.3 88.2 986 86C990.7 83.8 995.3 81.8 1000 80"/><path id="b307" d="M878 95.6L911 95.6"/><path id="b308" d="M911 95.6C915.7 95.6 920.3 94.9 925 94.5C929.7 94.1 934.3 93.2 939 93.2"/><path id="b309" d="M939 93.2L972 93.2"/><path id="b310" d="M972 93.2C976.7 93.2 981.3 94.1 986 94.5C990.7 94.9 995.3 95.3 1000 95.6"/><path id="b311" d="M878 102.4L911 102.4"/><path id="b312" d="M911 102.4L939 102.4"/><path id="b313" d="M939 102.4L972 102.4"/><path id="b314" d="M972 102.4L1000 102.4"/><path id="b315" d="M878 114.1C889 114.1 900 113.8 911 113"/><path id="b316" d="M911 113C915.7 112.7 920.3 109.4 925 108C929.7 106.6 934.3 104.8 939 104.5"/><path id="b317" d="M939 104.5C950 103.8 961 103.4 972 103.4"/><path id="b318" d="M972 103.4C976.7 103.4 981.3 106.1 986 108C990.7 109.9 995.3 112.3 1000 115.1"/><path id="b319" d="M878 114.1C889 113.5 900 113 911 113"/><path id="b320" d="M911 113L925 113C929.7 113 934.3 115.1 939 115.1"/><path id="b321" d="M939 115.1L972 115.1"/><path id="b322" d="M972 115.1C976.7 115.1 981.3 114 986 114C990.7 114 995.3 114.4 1000 115.1"/><path id="b323" d="M878 132.1C889 132.1 900 131.8 911 131.1"/><path id="b324" d="M911 131.1C915.7 130.8 920.3 127.5 925 125C929.7 122.5 934.3 115.1 939 115.1"/><path id="b325" d="M939 115.1L972 115.1"/><path id="b326" d="M972 115.1C976.7 115.1 981.3 122.2 986 125C990.7 127.8 995.3 130.2 1000 132.1"/><path id="b327" d="M878 132.1C889 131.1 900 131.1 911 131.1"/><path id="b328" d="M911 131.1C915.7 131.1 920.3 134.9 925 136C929.7 137.1 934.3 138.5 939 138.5"/><path id="b329" d="M939 138.5L972 138.5"/><path id="b330" d="M972 138.5C976.7 138.5 981.3 137 986 136C990.7 135 995.3 133.6 1000 132.1"/><path id="b331" d="M878 144.9C889 144.9 900 144.5 911 143.8"/><path id="b332" d="M911 143.8C915.7 143.5 920.3 141.9 925 141C929.7 140.1 934.3 138.5 939 138.5"/><path id="b333" d="M939 138.5L972 138.5"/><path id="b334" d="M972 138.5C976.7 138.5 981.3 140 986 141C990.7 142 995.3 143.4 1000 144.9"/><path id="b335" d="M878 148.1C889 143.8 900 143.8 911 143.8"/><path id="b336" d="M911 143.8C915.7 143.8 920.3 147.7 925 150C929.7 152.3 934.3 157.6 939 157.6"/><path id="b337" d="M939 157.6L972 157.6"/><path id="b338" d="M972 157.6C976.7 157.6 981.3 152 986 150C990.7 148 995.3 146.2 1000 144.9"/><path id="b339" d="M878 164C889 164 900 163.6 911 162.9"/><path id="b340" d="M911 162.9C915.7 162.6 920.3 160.9 925 160C929.7 159.1 934.3 157.6 939 157.6"/><path id="b341" d="M939 157.6L972 157.6"/><path id="b342" d="M972 157.6C976.7 157.6 981.3 159 986 160C990.7 161 995.3 162.4 1000 164"/><path id="b343" d="M878 173.6C889 172.8 900 172.5 911 172.5"/><path id="b344" d="M911 172.5C920.3 172.5 929.7 173.6 939 173.6"/><path id="b345" d="M939 173.6L972 173.6"/><path id="b346" d="M972 173.6L1000 173.6"/><path id="b347" d="M1000 54.6C1005.4 54.6 1010.9 55.1 1016.3 55.6C1023.4 56.3 1030.4 59.6 1037.5 60.9C1044.6 62.2 1051.7 64.1 1058.8 64.1C1064.5 64.1 1070.1 62 1075.8 62C1080.8 62 1085.7 63.1 1090.7 64.1C1096.4 65.2 1102 69.4 1107.7 69.4C1114.1 69.4 1120.4 66.4 1126.8 64.1C1132.5 62.1 1138.1 57.2 1143.8 55.6C1147.2 54.6 1150.6 53.8 1154 53.5"/><path id="b348" d="M1052 49C1054.3 49.9 1056.5 50.8 1058.8 51.4C1065.9 53.3 1072.9 54.7 1080 55.6C1087.1 56.5 1094.2 57.7 1101.3 57.7L1122.6 57.7C1129.7 57.7 1136.7 55.9 1143.8 54.6C1147.2 54 1150.6 53.2 1154 52.4"/><path id="b349" d="M1000 87.5C1005.4 88 1010.9 88.6 1016.3 88.6L1037.5 88.6C1044.6 88.6 1051.7 86.4 1058.8 86.4L1084.3 86.4C1090 86.4 1095.6 82.1 1101.3 80.1C1108.4 77.5 1115.5 74.9 1122.6 72.6C1129.7 70.3 1136.7 67.9 1143.8 66.2C1147.2 65.4 1150.6 64.7 1154 64.1"/><path id="b350" d="M1000 96L1016.3 96C1023.4 96 1030.4 99.2 1037.5 100.2C1044.6 101.2 1051.7 102.4 1058.8 102.4C1065.9 102.4 1072.9 97.8 1080 94.9C1087.1 92 1094.2 86.7 1101.3 84.3C1108.4 81.9 1115.5 79 1122.6 79L1154 79"/><path id="b351" d="M1000 120.4L1016.3 120.4C1023.4 120.4 1030.4 119.2 1037.5 118.3C1044.6 117.4 1051.7 116.1 1058.8 114.1C1065.9 112.2 1072.9 107.7 1080 104.5C1087.1 101.3 1094.2 96.8 1101.3 94.9C1108.4 93 1115.5 90.7 1122.6 90.7L1143.8 90.7C1147.2 90.7 1150.6 91.9 1154 92.8"/><path id="b352" d="M1000 145.9L1016.3 145.9C1023.4 145.9 1030.4 142.4 1037.5 140.6C1044.6 138.8 1051.7 137.6 1058.8 135.3C1065.9 133 1072.9 129.3 1080 125.7C1087.1 122 1094.2 116.6 1101.3 113C1108.4 109.4 1115.5 103.4 1122.6 103.4C1129.7 103.4 1136.7 103.9 1143.8 104.5C1147.2 104.8 1150.6 105.7 1154 106.6"/><path id="b353" d="M1000 167.2C1005.4 167.2 1010.9 166.7 1016.3 166.1C1023.4 165.3 1030.4 162.4 1037.5 159.7C1044.6 157 1051.7 153 1058.8 149.1C1065.9 145.3 1072.9 140 1080 136.4C1085.7 133.5 1091.3 128.9 1097 128.9C1102.7 128.9 1108.3 129.4 1114 130C1118.3 130.5 1122.5 132.8 1126.8 134.2C1132.5 136 1138.1 138.8 1143.8 139.6C1147.2 140.1 1150.6 140.5 1154 140.6"/><path id="b354" d="M1000 181C1005.4 181 1010.9 180.5 1016.3 179.9C1023.4 179.1 1030.4 172.5 1037.5 168.2C1044.6 163.8 1051.7 157 1058.8 153.4C1065.9 149.8 1072.9 147.3 1080 144.9C1087.1 142.5 1094.2 141.2 1101.3 138.5C1108.4 135.8 1115.5 131.3 1122.6 127.9C1129.7 124.5 1136.7 120.9 1143.8 118.3C1147.2 117.1 1150.6 116 1154 115.1"/><path id="b355" d="M1000 182.7C1005.4 181.5 1010.9 180.2 1016.3 178.9C1023.4 177.2 1030.4 175.4 1037.5 173.6C1044.6 171.8 1051.7 170 1058.8 168.2C1065.9 166.4 1072.9 163.5 1080 162.9C1087.1 162.3 1094.2 161.9 1101.3 161.9L1122.6 161.9C1129.7 161.9 1136.7 160.4 1143.8 159.7C1147.2 159.4 1150.6 159 1154 158.7"/><path id="b356" d="M1000 203.3C1005.4 203 1010.9 201.6 1016.3 200.1C1023.4 198.1 1030.4 193.4 1037.5 189.5C1044.6 185.6 1051.7 180.1 1058.8 176.7C1065.9 173.3 1072.9 169.3 1080 168.2C1087.1 167.1 1094.2 166.1 1101.3 166.1C1108.4 166.1 1115.5 169.2 1122.6 170.4C1129.7 171.6 1136.7 173 1143.8 173.6C1147.2 173.9 1150.6 174.1 1154 174.2"/></defs>
<g clip-path="url(#ax)">
<circle cx="154.5" cy="459.5" r="7.64" fill="#008000"/>
<circle cx="723.25" cy="459.5" r="7.64" fill="#008000"/>
<circle cx="886.3" cy="321.4" r="7.64" fill="#ff0000"/>
<g fill="none" stroke="#0000ff" stroke-width="4.17" stroke-linecap="square" stroke-linejoin="round"><use href="#b0"/><use href="#b1"/><use href="#b2"/><use href="#b3"/><use href="#b4"/><use href="#b5"/><use href="#b6"/><use href="#b7"/><use href="#b8"/><use href="#b9"/><use href="#b10"/><use href="#b11"/><use href="#b12"/><use href="#b13"/><use href="#b14"/><use href="#b15"/><use href="#b16"/><use href="#b17"/><use href="#b18"/><use href="#b19"/><use href="#b20"/><use href="#b21"/><use href="#b22"/><use href="#b23"/><use href="#b24"/><use href="#b25"/><use href="#b26"/><use href="#b27"/><use href="#b28"/><use href="#b29"/><use href="#b30"/><use href="#b31"/><use href="#b32"/><use href="#b33"/><use href="#b34"/><use href="#b35"/><use href="#b36"/><use href="#b37"/><use href="#b38"/><use href="#b39"/><use href="#b40"/><use href="#b41"/><use href="#b42"/><use href="#b43"/><use href="#b44"/><use href="#b45"/><use href="#b46"/><use href="#b47"/><use href="#b48"/><use href="#b49"/><use href="#b50"/><use href="#b51"/><use href="#b52"/><use href="#b53"/><use href="#b54"/><use href="#b55"/><use href="#b56"/><use href="#b57"/><use href="#b58"/><use href="#b59"/><use href="#b60"/><use href="#b61"/><use href="#b62"/><use href="#b63"/><use href="#b64"/><use href="#b65"/><use href="#b66"/><use href="#b67"/><use href="#b68"/><use href="#b69"/><use href="#b70"/><use href="#b71"/><use href="#b72"/><use href="#b73"/><use href="#b74"/><use href="#b75"/><use href="#b76"/><use href="#b77"/><use href="#b78"/><use href="#b79"/><use href="#b80"/><use href="#b81"/><use href="#b82"/><use href="#b83"/><use href="#b84"/><use href="#b85"/><use href="#b86"/><use href="#b87"/><use href="#b88"/><use href="#b89"/><use href="#b90"/><use href="#b91"/><use href="#b92"/><use href="#b93"/><use href="#b94"/><use href="#b95"/><use href="#b96"/><use href="#b97"/><use href="#b98"/><use href="#b99"/><use href="#b100"/><use href="#b101"/><use href="#b102"/><use href="#b103"/><use href="#b104"/><use href="#b105"/><use href="#b106"/><use href="#b107"/><use href="#b108"/><use href="#b109"/><use href="#b110"/><use href="#b111"/><use href="#b112"/><use href="#b113"/><use href="#b114"/><use href="#b115"/><use href="#b116"/><use href="#b117"/><use href="#b118"/><use href="#b119"/><use href="#b120"/><use href="#b121"/><use href="#b122"/><use href="#b123"/><use href="#b124"/><use href="#b125"/><use href="#b126"/><use href="#b127"/><use href="#b128"/><use href="#b129"/><use href="#b130"/><use href="#b131"/><use href="#b132"/><use href="#b133"/><use href="#b134"/><use href="#b135"/><use href="#b136"/><use href="#b137"/><use href="#b138"/><use href="#b139"/><use href="#b140"/><use href="#b141"/><use href="#b142"/><use href="#b143"/><use href="#b144"/><use href="#b145"/><use href="#b146"/><use href="#b147"/><use href="#b148"/><use href="#b149"/><use href="#b150"/><use href="#b151"/><use href="#b152"/><use href="#b153"/><use href="#b154"/><use href="#b155"/><use href="#b156"/><use href="#b157"/><use href="#b158"/><use href="#b159"/><use href="#b160"/><use href="#b161"/><use href="#b162"/><use href="#b163"/><use href="#b164"/><use href="#b165"/><use href="#b166"/><use href="#b167"/><use href="#b168"/><use href="#b169"/><use href="#b170"/><use href="#b171"/><use href="#b172"/><use href="#b173"/><use href="#b174"/><use href="#b175"/><use href="#b176"/><use href="#b177"/><use href="#b178"/><use href="#b179"/><use href="#b180"/><use href="#b181"/><use href="#b182"/><use href="#b183"/><use href="#b184"/><use href="#b185"/><use href="#b186"/><use href="#b187"/><use href="#b188"/><use href="#b189"/><use href="#b190"/><use href="#b191"/><use href="#b192"/><use href="#b193"/><use href="#b194"/><use href="#b195"/><use href="#b196"/><use href="#b197"/><use href="#b198"/><use href="#b199"/><use href="#b200"/><use href="#b201"/><use href="#b202"/><use href="#b203"/><use href="#b204"/><use href="#b205"/><use href="#b206"/><use href="#b207"/><use href="#b208"/><use href="#b209"/><use href="#b210"/><use href="#b211"/><use href="#b212"/><use href="#b213"/><use href="#b214"/><use href="#b215"/><use href="#b216"/><use href="#b217"/><use href="#b218"/><use href="#b219"/><use href="#b220"/><use href="#b221"/><use href="#b222"/><use href="#b223"/><use href="#b224"/><use href="#b225"/><use href="#b226"/><use href="#b227"/><use href="#b228"/><use href="#b229"/><use href="#b230"/><use href="#b231"/><use href="#b232"/><use href="#b233"/><use href="#b234"/><use href="#b235"/><use href="#b236"/><use href="#b237"/><use href="#b238"/><use href="#b239"/><use href="#b240"/><use href="#b241"/><use href="#b242"/><use href="#b243"/><use href="#b244"/><use href="#b245"/><use href="#b246"/><use href="#b247"/><use href="#b248"/><use href="#b249"/><use href="#b250"/><use href="#b251"/><use href="#b252"/><use href="#b253"/><use href="#b254"/><use href="#b255"/><use href="#b256"/><use href="#b257"/><use href="#b258"/><use href="#b259"/><use href="#b260"/><use href="#b261"/><use href="#b262"/><use href="#b263"/><use href="#b264"/><use href="#b265"/><use href="#b266"/><use href="#b267"/><use href="#b268"/><use href="#b269"/><use href="#b270"/><use href="#b271"/><use href="#b272"/><use href="#b273"/><use href="#b274"/><use href="#b275"/><use href="#b276"/><use href="#b277"/><use href="#b278"/><use href="#b279"/><use href="#b280"/><use href="#b281"/><use href="#b282"/><use href="#b283"/><use href="#b284"/><use href="#b285"/><use href="#b286"/><use href="#b287"/><use href="#b288"/><use href="#b289"/><use href="#b290"/><use href="#b291"/><use href="#b292"/><use href="#b293"/><use href="#b294"/><use href="#b295"/><use href="#b296"/><use href="#b297"/><use href="#b298"/><use href="#b299"/><use href="#b300"/><use href="#b301"/><use href="#b302"/><use href="#b303"/><use href="#b304"/><use href="#b305"/><use href="#b306"/><use href="#b307"/><use href="#b308"/><use href="#b309"/><use href="#b310"/><use href="#b311"/><use href="#b312"/><use href="#b313"/><use href="#b314"/><use href="#b315"/><use href="#b316"/><use href="#b317"/><use href="#b318"/><use href="#b319"/><use href="#b320"/><use href="#b321"/><use href="#b322"/><use href="#b323"/><use href="#b324"/><use href="#b325"/><use href="#b326"/><use href="#b327"/><use href="#b328"/><use href="#b329"/><use href="#b330"/><use href="#b331"/><use href="#b332"/><use href="#b333"/><use href="#b334"/><use href="#b335"/><use href="#b336"/><use href="#b337"/><use href="#b338"/><use href="#b339"/><use href="#b340"/><use href="#b341"/><use href="#b342"/><use href="#b343"/><use href="#b344"/><use href="#b345"/><use href="#b346"/><use href="#b347"/><use href="#b348"/><use href="#b349"/><use href="#b350"/><use href="#b351"/><use href="#b352"/><use href="#b353"/><use href="#b354"/><use href="#b355"/><use href="#b356"/></g>
<g fill="none" stroke="#ff0000" stroke-width="4.17" stroke-linecap="butt" stroke-linejoin="round" stroke-dasharray="15.42 6.67"><use href="#b0"/><use href="#b1"/><use href="#b2"/><use href="#b3"/><use href="#b4"/><use href="#b5"/><use href="#b6"/><use href="#b7"/><use href="#b8"/><use href="#b9"/><use href="#b10"/><use href="#b11"/><use href="#b12"/><use href="#b13"/><use href="#b14"/><use href="#b15"/><use href="#b16"/><use href="#b17"/><use href="#b18"/><use href="#b19"/><use href="#b20"/><use href="#b21"/><use href="#b22"/><use href="#b23"/><use href="#b24"/><use href="#b25"/><use href="#b26"/><use href="#b27"/><use href="#b28"/><use href="#b29"/><use href="#b30"/><use href="#b31"/><use href="#b32"/><use href="#b33"/><use href="#b34"/><use href="#b35"/><use href="#b36"/><use href="#b37"/><use href="#b38"/><use href="#b39"/><use href="#b40"/><use href="#b41"/><use href="#b42"/><use href="#b43"/><use href="#b44"/><use href="#b45"/><use href="#b46"/><use href="#b47"/><use href="#b48"/><use href="#b49"/><use href="#b50"/><use href="#b51"/><use href="#b52"/><use href="#b53"/><use href="#b54"/><use href="#b55"/><use href="#b56"/><use href="#b57"/><use href="#b58"/><use href="#b59"/><use href="#b60"/><use href="#b61"/><use href="#b62"/><use href="#b63"/><use href="#b64"/><use href="#b65"/><use href="#b66"/><use href="#b67"/><use href="#b68"/><use href="#b69"/><use href="#b70"/><use href="#b71"/><use href="#b72"/><use href="#b73"/><use href="#b74"/><use href="#b75"/><use href="#b76"/><use href="#b77"/><use href="#b78"/><use href="#b79"/><use href="#b80"/><use href="#b81"/><use href="#b82"/><use href="#b83"/><use href="#b84"/><use href="#b85"/><use href="#b86"/><use href="#b87"/><use href="#b88"/><use href="#b89"/><use href="#b90"/><use href="#b91"/><use href="#b92"/><use href="#b93"/><use href="#b94"/><use href="#b95"/><use href="#b96"/><use href="#b97"/><use href="#b98"/><use href="#b99"/><use href="#b100"/><use href="#b101"/><use href="#b102"/><use href="#b103"/><use href="#b104"/><use href="#b105"/><use href="#b106"/><use href="#b107"/><use href="#b108"/><use href="#b109"/><use href="#b110"/><use href="#b111"/><use href="#b112"/><use href="#b113"/><use href="#b114"/><use href="#b115"/><use href="#b116"/><use href="#b117"/><use href="#b118"/><use href="#b119"/><use href="#b120"/><use href="#b121"/><use href="#b122"/><use href="#b123"/><use href="#b124"/><use href="#b125"/><use href="#b126"/><use href="#b127"/><use href="#b128"/><use href="#b129"/><use href="#b130"/><use href="#b131"/><use href="#b132"/><use href="#b133"/><use href="#b134"/><use href="#b135"/><use href="#b136"/><use href="#b137"/><use href="#b138"/><use href="#b139"/><use href="#b140"/><use href="#b141"/><use href="#b142"/><use href="#b143"/><use href="#b144"/><use href="#b145"/><use href="#b146"/><use href="#b147"/><use href="#b148"/><use href="#b149"/><use href="#b150"/><use href="#b151"/><use href="#b152"/><use href="#b153"/><use href="#b154"/><use href="#b155"/><use href="#b156"/><use href="#b157"/><use href="#b158"/><use href="#b159"/><use href="#b160"/><use href="#b161"/><use href="#b162"/><use href="#b163"/><use href="#b164"/><use href="#b165"/><use href="#b166"/><use href="#b167"/><use href="#b168"/><use href="#b169"/><use href="#b170"/><use href="#b171"/><use href="#b172"/><use href="#b173"/><use href="#b174"/><use href="#b175"/><use href="#b176"/><use href="#b177"/><use href="#b178"/><use href="#b179"/><use href="#b180"/><use href="#b181"/><use href="#b182"/><use href="#b183"/><use href="#b184"/><use href="#b185"/><use href="#b186"/><use href="#b187"/><use href="#b188"/><use href="#b189"/><use href="#b190"/><use href="#b191"/><use href="#b192"/><use href="#b193"/><use href="#b194"/><use href="#b195"/><use href="#b196"/><use href="#b197"/><use href="#b198"/><use href="#b199"/><use href="#b200"/><use href="#b201"/><use href="#b202"/><use href="#b203"/><use href="#b204"/><use href="#b205"/><use href="#b206"/><use href="#b207"/><use href="#b208"/><use href="#b209"/><use href="#b210"/><use href="#b211"/><use href="#b212"/><use href="#b213"/><use href="#b214"/><use href="#b215"/><use href="#b216"/><use href="#b217"/><use href="#b218"/><use href="#b219"/><use href="#b220"/><use href="#b221"/><use href="#b222"/><use href="#b223"/><use href="#b224"/><use href="#b225"/><use href="#b226"/><use href="#b227"/><use href="#b228"/><use href="#b229"/><use href="#b230"/><use href="#b231"/><use href="#b232"/><use href="#b233"/><use href="#b234"/><use href="#b235"/><use href="#b236"/><use href="#b237"/><use href="#b238"/><use href="#b239"/><use href="#b240"/><use href="#b241"/><use href="#b242"/><use href="#b243"/><use href="#b244"/><use href="#b245"/><use href="#b246"/><use href="#b247"/><use href="#b248"/><use href="#b249"/><use href="#b250"/><use href="#b251"/><use href="#b252"/><use href="#b253"/><use href="#b254"/><use href="#b255"/><use href="#b256"/><use href="#b257"/><use href="#b258"/><use href="#b259"/><use href="#b260"/><use href="#b261"/><use href="#b262"/><use href="#b263"/><use href="#b264"/><use href="#b265"/><use href="#b266"/><use href="#b267"/><use href="#b268"/><use href="#b269"/><use href="#b270"/><use href="#b271"/><use href="#b272"/><use href="#b273"/><use href="#b274"/><use href="#b275"/><use href="#b276"/><use href="#b277"/><use href="#b278"/><use href="#b279"/><use href="#b280"/><use href="#b281"/><use href="#b282"/><use href="#b283"/><use href="#b284"/><use href="#b285"/><use href="#b286"/><use href="#b287"/><use href="#b288"/><use href="#b289"/><use href="#b290"/><use href="#b291"/><use href="#b292"/><use href="#b293"/><use href="#b294"/><use href="#b295"/><use href="#b296"/><use href="#b297"/><use href="#b298"/><use href="#b299"/><use href="#b300"/><use href="#b301"/><use href="#b302"/><use href="#b303"/><use href="#b304"/><use href="#b305"/><use href="#b306"/><use href="#b307"/><use href="#b308"/><use href="#b309"/><use href="#b310"/><use href="#b311"/><use href="#b312"/><use href="#b313"/><use href="#b314"/><use href="#b315"/><use href="#b316"/><use href="#b317"/><use href="#b318"/><use href="#b319"/><use href="#b320"/><use href="#b321"/><use href="#b322"/><use href="#b323"/><use href="#b324"/><use href="#b325"/><use href="#b326"/><use href="#b327"/><use href="#b328"/><use href="#b329"/><use href="#b330"/><use href="#b331"/><use href="#b332"/><use href="#b333"/><use href="#b334"/><use href="#b335"/><use href="#b336"/><use href="#b337"/><use href="#b338"/><use href="#b339"/><use href="#b340"/><use href="#b341"/><use href="#b342"/><use href="#b343"/><use href="#b344"/><use href="#b345"/><use href="#b346"/><use href="#b347"/><use href="#b348"/><use href="#b349"/><use href="#b350"/><use href="#b351"/><use href="#b352"/><use href="#b353"/><use href="#b354"/><use href="#b355"/><use href="#b356"/></g>
<g stroke="#000" stroke-width="2" fill="none"><path d="M311 50.4V664.5"/><path d="M411 50.4V664.5"/><path d="M438 50.4V664.5"/><path d="M538 50.4V664.5"/><path d="M696 50.4V664.5"/><path d="M723 50.4V664.5"/><path d="M878 50.4V664.5"/><path d="M911 50.4V664.5"/><path d="M939 50.4V664.5"/><path d="M972 50.4V664.5"/><path d="M1000 50.4V664.5"/></g>
</g>
<rect x="154" y="50.4" width="1.3" height="614.1" fill="#000"/>
<rect x="1152.9" y="50.4" width="2.3" height="614.1" fill="#000"/>
</g>
<g id="patch_3">
<path d="M 110.88 478.44 
L 110.88 36.288 
" style="fill: none; stroke: #000000; stroke-width: 0.8; stroke-linejoin: miter; stroke-linecap: square"/>
</g>
<g id="patch_4">
<path d="M 830.88 478.44 
L 830.88 36.288 
" style="fill: none; stroke: #000000; stroke-width: 0.8; stroke-linejoin: miter; stroke-linecap: square"/>
</g>
<g id="patch_5">
<path d="M 110.88 478.44 
L 830.88 478.44 
" style="fill: none; stroke: #000000; stroke-width: 0.8; stroke-linejoin: miter; stroke-linecap: square"/>
</g>
<g id="patch_6">
<path d="M 110.88 36.288 
L 830.88 36.288 
" style="fill: none; stroke: #000000; stroke-width: 0.8; stroke-linejoin: miter; stroke-linecap: square"/>
</g>
</g>
</g>
</svg>
</body></html>
